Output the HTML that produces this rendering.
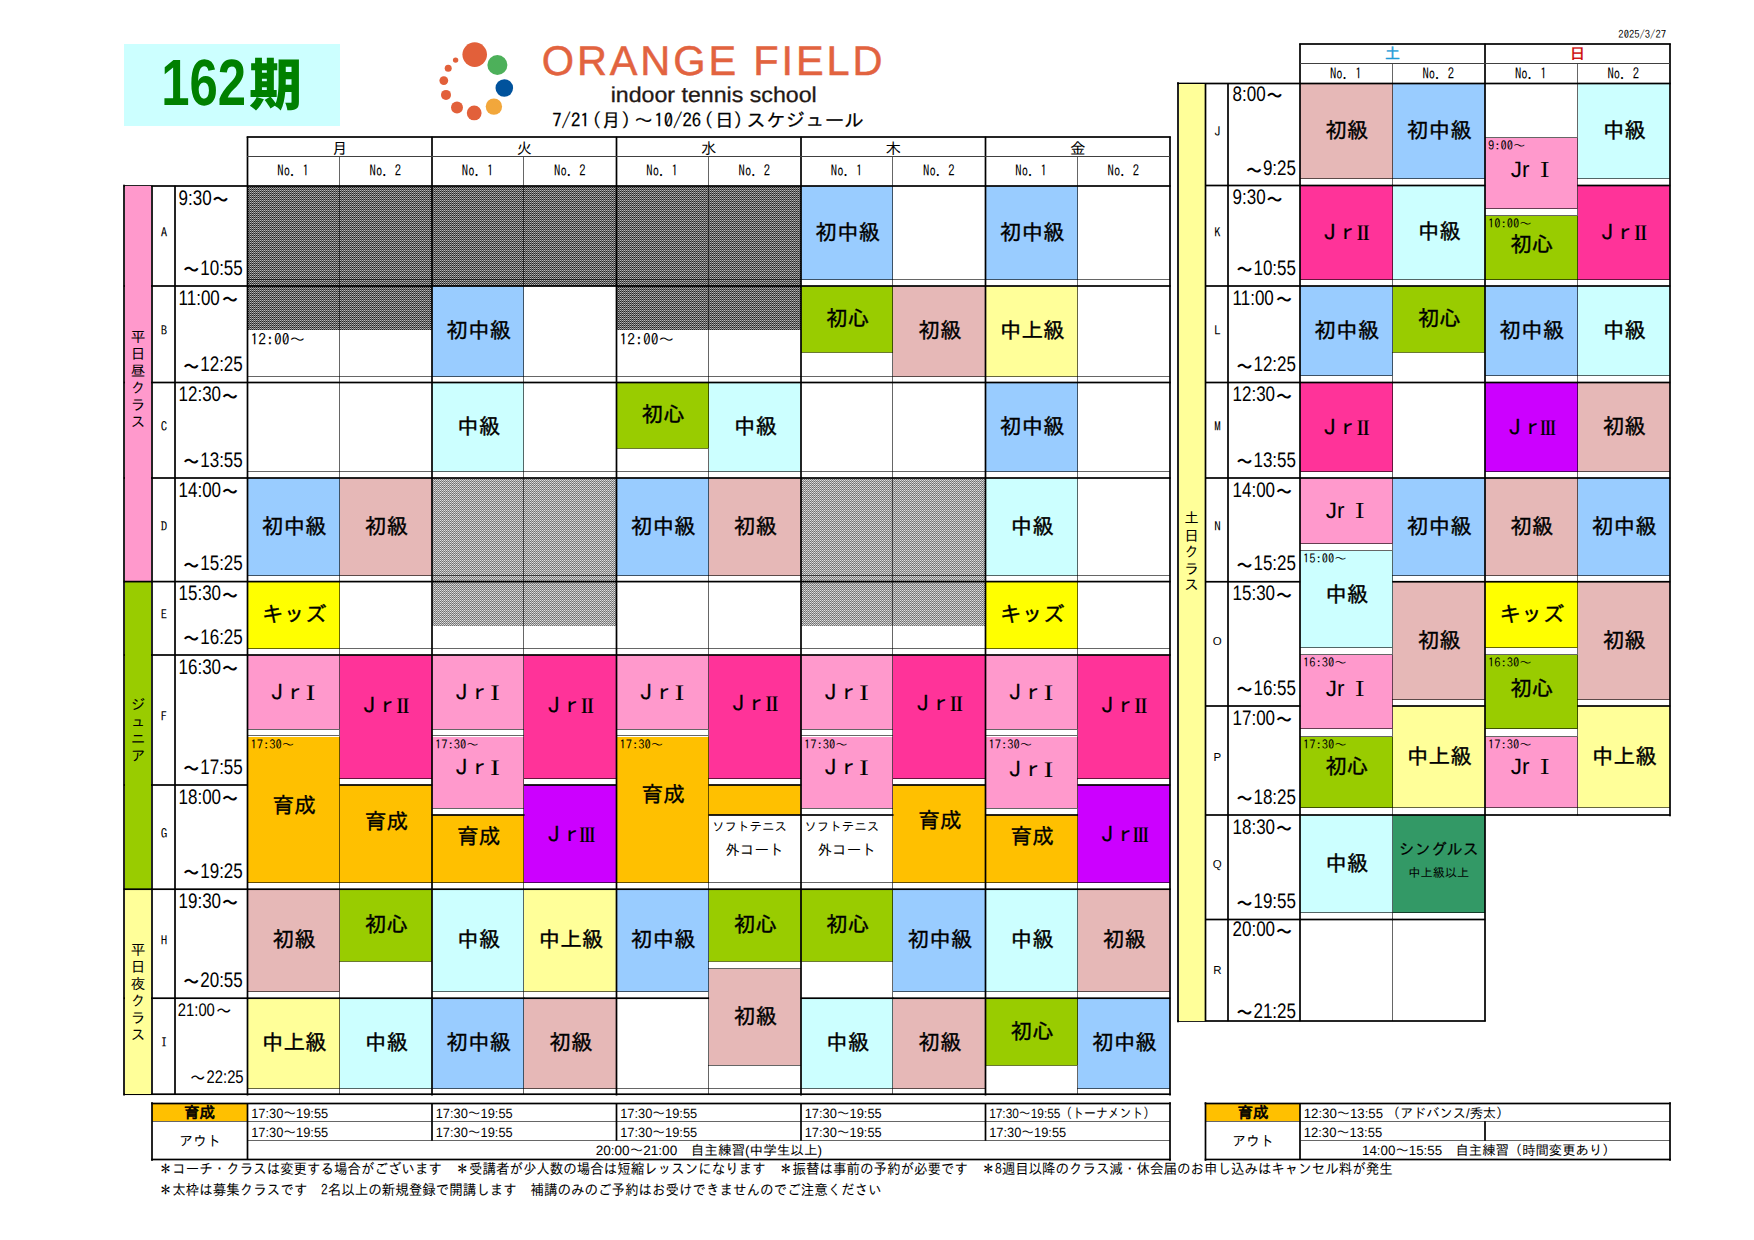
<!DOCTYPE html>
<html lang="ja"><head><meta charset="utf-8"><title>ORANGE FIELD indoor tennis school 162期 スケジュール</title>
<style>html,body{margin:0;padding:0;background:#fff}body{width:1754px;height:1240px;overflow:hidden}svg{display:block}</style>
</head><body>
<svg width="1754" height="1240" viewBox="0 0 1754 1240" shape-rendering="crispEdges">
<defs><pattern id="pd" width="2" height="2" patternUnits="userSpaceOnUse"><rect x="0" y="0" width="1" height="1" fill="#b8b8b8"/><rect x="1" y="0" width="1" height="1" fill="#585858"/><rect x="0" y="1" width="1" height="1" fill="#202020"/><rect x="1" y="1" width="1" height="1" fill="#808080"/></pattern><pattern id="pl" width="2" height="2" patternUnits="userSpaceOnUse"><rect x="0" y="0" width="1" height="1" fill="#e0e0e0"/><rect x="1" y="0" width="1" height="1" fill="#888888"/><rect x="0" y="1" width="1" height="1" fill="#6c6c6c"/><rect x="1" y="1" width="1" height="1" fill="#c0c0c0"/></pattern></defs>
<rect x="0" y="0" width="1754" height="1240" fill="#fff"/>
<rect x="124" y="44" width="215.5" height="82" fill="#CCFFFF"/>
<rect x="247.5" y="186" width="92.25" height="100" fill="url(#pd)"/>
<rect x="247.5" y="286" width="92.25" height="43.5" fill="url(#pd)"/>
<rect x="247.5" y="478" width="92.25" height="98" fill="#99CCFF"/>
<rect x="247.5" y="581.6" width="92.25" height="67.4" fill="#FFFF00"/>
<rect x="247.5" y="655" width="92.25" height="74" fill="#FF99CC"/>
<rect x="247.5" y="736.5" width="92.25" height="146.5" fill="#FFC000"/>
<rect x="247.5" y="889.2" width="92.25" height="102.55" fill="#E6B8B7"/>
<rect x="247.5" y="998.2" width="92.25" height="90.3" fill="#FFFF99"/>
<rect x="339.75" y="186" width="92.25" height="100" fill="url(#pd)"/>
<rect x="339.75" y="286" width="92.25" height="43.5" fill="url(#pd)"/>
<rect x="339.75" y="478" width="92.25" height="98" fill="#E6B8B7"/>
<rect x="339.75" y="655" width="92.25" height="124" fill="#FF3399"/>
<rect x="339.75" y="785" width="92.25" height="98" fill="#FFC000"/>
<rect x="339.75" y="889.2" width="92.25" height="71.8" fill="#99CC00"/>
<rect x="339.75" y="998.2" width="92.25" height="90.3" fill="#CCFFFF"/>
<rect x="432" y="186" width="92.25" height="100" fill="url(#pd)"/>
<rect x="432" y="286" width="92.25" height="91" fill="#99CCFF"/>
<rect x="432" y="382.5" width="92.25" height="89" fill="#CCFFFF"/>
<rect x="432" y="478" width="92.25" height="103.6" fill="url(#pl)"/>
<rect x="432" y="581.6" width="92.25" height="44.15" fill="url(#pl)"/>
<rect x="432" y="655" width="92.25" height="74" fill="#FF99CC"/>
<rect x="432" y="736.5" width="92.25" height="71.5" fill="#FF99CC"/>
<rect x="432" y="815" width="92.25" height="68" fill="#FFC000"/>
<rect x="432" y="889.2" width="92.25" height="102.55" fill="#CCFFFF"/>
<rect x="432" y="998.2" width="92.25" height="90.3" fill="#99CCFF"/>
<rect x="524.25" y="186" width="92.25" height="100" fill="url(#pd)"/>
<rect x="524.25" y="478" width="92.25" height="103.6" fill="url(#pl)"/>
<rect x="524.25" y="581.6" width="92.25" height="44.15" fill="url(#pl)"/>
<rect x="524.25" y="655" width="92.25" height="124" fill="#FF3399"/>
<rect x="524.25" y="785" width="92.25" height="98" fill="#CC00FF"/>
<rect x="524.25" y="889.2" width="92.25" height="102.55" fill="#FFFF99"/>
<rect x="524.25" y="998.2" width="92.25" height="90.3" fill="#E6B8B7"/>
<rect x="616.5" y="186" width="92.25" height="100" fill="url(#pd)"/>
<rect x="616.5" y="286" width="92.25" height="43.5" fill="url(#pd)"/>
<rect x="616.5" y="382.5" width="92.25" height="65.5" fill="#99CC00"/>
<rect x="616.5" y="478" width="92.25" height="98" fill="#99CCFF"/>
<rect x="616.5" y="655" width="92.25" height="74" fill="#FF99CC"/>
<rect x="616.5" y="736.5" width="92.25" height="146.5" fill="#FFC000"/>
<rect x="616.5" y="889.2" width="92.25" height="102.55" fill="#99CCFF"/>
<rect x="708.75" y="186" width="92.25" height="100" fill="url(#pd)"/>
<rect x="708.75" y="286" width="92.25" height="43.5" fill="url(#pd)"/>
<rect x="708.75" y="382.5" width="92.25" height="89" fill="#CCFFFF"/>
<rect x="708.75" y="478" width="92.25" height="98" fill="#E6B8B7"/>
<rect x="708.75" y="655" width="92.25" height="124" fill="#FF3399"/>
<rect x="708.75" y="785" width="92.25" height="29.5" fill="#FFC000"/>
<rect x="708.75" y="889.2" width="92.25" height="71.8" fill="#99CC00"/>
<rect x="708.75" y="968.5" width="92.25" height="96.5" fill="#E6B8B7"/>
<rect x="801" y="186" width="92.25" height="94" fill="#99CCFF"/>
<rect x="801" y="286" width="92.25" height="66" fill="#99CC00"/>
<rect x="801" y="478" width="92.25" height="103.6" fill="url(#pl)"/>
<rect x="801" y="581.6" width="92.25" height="44.15" fill="url(#pl)"/>
<rect x="801" y="655" width="92.25" height="74" fill="#FF99CC"/>
<rect x="801" y="736.5" width="92.25" height="71.5" fill="#FF99CC"/>
<rect x="801" y="889.2" width="92.25" height="71.8" fill="#99CC00"/>
<rect x="801" y="998.2" width="92.25" height="90.3" fill="#CCFFFF"/>
<rect x="893.25" y="286" width="92.25" height="91" fill="#E6B8B7"/>
<rect x="893.25" y="478" width="92.25" height="103.6" fill="url(#pl)"/>
<rect x="893.25" y="581.6" width="92.25" height="44.15" fill="url(#pl)"/>
<rect x="893.25" y="655" width="92.25" height="124" fill="#FF3399"/>
<rect x="893.25" y="785" width="92.25" height="98" fill="#FFC000"/>
<rect x="893.25" y="889.2" width="92.25" height="102.55" fill="#99CCFF"/>
<rect x="893.25" y="998.2" width="92.25" height="90.3" fill="#E6B8B7"/>
<rect x="985.5" y="186" width="92.25" height="94" fill="#99CCFF"/>
<rect x="985.5" y="286" width="92.25" height="91" fill="#FFFF99"/>
<rect x="985.5" y="382.5" width="92.25" height="89" fill="#99CCFF"/>
<rect x="985.5" y="478" width="92.25" height="98" fill="#CCFFFF"/>
<rect x="985.5" y="581.6" width="92.25" height="67.4" fill="#FFFF00"/>
<rect x="985.5" y="655" width="92.25" height="74" fill="#FF99CC"/>
<rect x="985.5" y="736.5" width="92.25" height="71.5" fill="#FF99CC"/>
<rect x="985.5" y="815" width="92.25" height="68" fill="#FFC000"/>
<rect x="985.5" y="889.2" width="92.25" height="102.55" fill="#CCFFFF"/>
<rect x="985.5" y="998.2" width="92.25" height="66.8" fill="#99CC00"/>
<rect x="1077.75" y="655" width="92.25" height="124" fill="#FF3399"/>
<rect x="1077.75" y="785" width="92.25" height="98" fill="#CC00FF"/>
<rect x="1077.75" y="889.2" width="92.25" height="102.55" fill="#E6B8B7"/>
<rect x="1077.75" y="998.2" width="92.25" height="90.3" fill="#99CCFF"/>
<rect x="247" y="279" width="92" height="1" fill="#000" fill-opacity="0.6"/>
<rect x="339" y="279" width="93" height="1" fill="#000" fill-opacity="0.6"/>
<rect x="432" y="279" width="92" height="1" fill="#000" fill-opacity="0.6"/>
<rect x="524" y="279" width="92" height="1" fill="#000" fill-opacity="0.6"/>
<rect x="616" y="279" width="92" height="1" fill="#000" fill-opacity="0.6"/>
<rect x="708" y="279" width="93" height="1" fill="#000" fill-opacity="0.6"/>
<rect x="801" y="279" width="92" height="1" fill="#000" fill-opacity="0.6"/>
<rect x="893" y="279" width="92" height="1" fill="#000" fill-opacity="0.6"/>
<rect x="985" y="279" width="92" height="1" fill="#000" fill-opacity="0.6"/>
<rect x="1077" y="279" width="93" height="1" fill="#000" fill-opacity="0.6"/>
<rect x="247" y="376" width="92" height="1" fill="#000" fill-opacity="0.6"/>
<rect x="339" y="376" width="93" height="1" fill="#000" fill-opacity="0.6"/>
<rect x="432" y="376" width="92" height="1" fill="#000" fill-opacity="0.6"/>
<rect x="524" y="376" width="92" height="1" fill="#000" fill-opacity="0.6"/>
<rect x="616" y="376" width="92" height="1" fill="#000" fill-opacity="0.6"/>
<rect x="708" y="376" width="93" height="1" fill="#000" fill-opacity="0.6"/>
<rect x="801" y="376" width="92" height="1" fill="#000" fill-opacity="0.6"/>
<rect x="893" y="376" width="92" height="1" fill="#000" fill-opacity="0.6"/>
<rect x="985" y="376" width="92" height="1" fill="#000" fill-opacity="0.6"/>
<rect x="1077" y="376" width="93" height="1" fill="#000" fill-opacity="0.6"/>
<rect x="247" y="471" width="92" height="1" fill="#000" fill-opacity="0.6"/>
<rect x="339" y="471" width="93" height="1" fill="#000" fill-opacity="0.6"/>
<rect x="432" y="471" width="92" height="1" fill="#000" fill-opacity="0.6"/>
<rect x="524" y="471" width="92" height="1" fill="#000" fill-opacity="0.6"/>
<rect x="616" y="471" width="92" height="1" fill="#000" fill-opacity="0.6"/>
<rect x="708" y="471" width="93" height="1" fill="#000" fill-opacity="0.6"/>
<rect x="801" y="471" width="92" height="1" fill="#000" fill-opacity="0.6"/>
<rect x="893" y="471" width="92" height="1" fill="#000" fill-opacity="0.6"/>
<rect x="985" y="471" width="92" height="1" fill="#000" fill-opacity="0.6"/>
<rect x="1077" y="471" width="93" height="1" fill="#000" fill-opacity="0.6"/>
<rect x="247" y="575" width="92" height="1" fill="#000" fill-opacity="0.6"/>
<rect x="339" y="575" width="93" height="1" fill="#000" fill-opacity="0.6"/>
<rect x="432" y="575" width="92" height="1" fill="#000" fill-opacity="0.6"/>
<rect x="524" y="575" width="92" height="1" fill="#000" fill-opacity="0.6"/>
<rect x="616" y="575" width="92" height="1" fill="#000" fill-opacity="0.6"/>
<rect x="708" y="575" width="93" height="1" fill="#000" fill-opacity="0.6"/>
<rect x="801" y="575" width="92" height="1" fill="#000" fill-opacity="0.6"/>
<rect x="893" y="575" width="92" height="1" fill="#000" fill-opacity="0.6"/>
<rect x="985" y="575" width="92" height="1" fill="#000" fill-opacity="0.6"/>
<rect x="1077" y="575" width="93" height="1" fill="#000" fill-opacity="0.6"/>
<rect x="247" y="648" width="92" height="1" fill="#000" fill-opacity="0.6"/>
<rect x="339" y="648" width="93" height="1" fill="#000" fill-opacity="0.6"/>
<rect x="432" y="648" width="92" height="1" fill="#000" fill-opacity="0.6"/>
<rect x="524" y="648" width="92" height="1" fill="#000" fill-opacity="0.6"/>
<rect x="616" y="648" width="92" height="1" fill="#000" fill-opacity="0.6"/>
<rect x="708" y="648" width="93" height="1" fill="#000" fill-opacity="0.6"/>
<rect x="801" y="648" width="92" height="1" fill="#000" fill-opacity="0.6"/>
<rect x="893" y="648" width="92" height="1" fill="#000" fill-opacity="0.6"/>
<rect x="985" y="648" width="92" height="1" fill="#000" fill-opacity="0.6"/>
<rect x="1077" y="648" width="93" height="1" fill="#000" fill-opacity="0.6"/>
<rect x="339" y="778" width="93" height="1" fill="#000" fill-opacity="0.6"/>
<rect x="524" y="778" width="92" height="1" fill="#000" fill-opacity="0.6"/>
<rect x="708" y="778" width="93" height="1" fill="#000" fill-opacity="0.6"/>
<rect x="893" y="778" width="92" height="1" fill="#000" fill-opacity="0.6"/>
<rect x="1077" y="778" width="93" height="1" fill="#000" fill-opacity="0.6"/>
<rect x="247" y="882" width="92" height="1" fill="#000" fill-opacity="0.6"/>
<rect x="339" y="882" width="93" height="1" fill="#000" fill-opacity="0.6"/>
<rect x="432" y="882" width="92" height="1" fill="#000" fill-opacity="0.6"/>
<rect x="524" y="882" width="92" height="1" fill="#000" fill-opacity="0.6"/>
<rect x="616" y="882" width="92" height="1" fill="#000" fill-opacity="0.6"/>
<rect x="708" y="882" width="93" height="1" fill="#000" fill-opacity="0.6"/>
<rect x="801" y="882" width="92" height="1" fill="#000" fill-opacity="0.6"/>
<rect x="893" y="882" width="92" height="1" fill="#000" fill-opacity="0.6"/>
<rect x="985" y="882" width="92" height="1" fill="#000" fill-opacity="0.6"/>
<rect x="1077" y="882" width="93" height="1" fill="#000" fill-opacity="0.6"/>
<rect x="247" y="991" width="92" height="1" fill="#000" fill-opacity="0.6"/>
<rect x="432" y="991" width="92" height="1" fill="#000" fill-opacity="0.6"/>
<rect x="524" y="991" width="92" height="1" fill="#000" fill-opacity="0.6"/>
<rect x="616" y="991" width="92" height="1" fill="#000" fill-opacity="0.6"/>
<rect x="893" y="991" width="92" height="1" fill="#000" fill-opacity="0.6"/>
<rect x="985" y="991" width="92" height="1" fill="#000" fill-opacity="0.6"/>
<rect x="1077" y="991" width="93" height="1" fill="#000" fill-opacity="0.6"/>
<rect x="247" y="1088" width="92" height="1" fill="#000" fill-opacity="0.6"/>
<rect x="339" y="1088" width="93" height="1" fill="#000" fill-opacity="0.6"/>
<rect x="432" y="1088" width="92" height="1" fill="#000" fill-opacity="0.6"/>
<rect x="524" y="1088" width="92" height="1" fill="#000" fill-opacity="0.6"/>
<rect x="616" y="1088" width="92" height="1" fill="#000" fill-opacity="0.6"/>
<rect x="708" y="1088" width="93" height="1" fill="#000" fill-opacity="0.6"/>
<rect x="801" y="1088" width="92" height="1" fill="#000" fill-opacity="0.6"/>
<rect x="893" y="1088" width="92" height="1" fill="#000" fill-opacity="0.6"/>
<rect x="1077" y="1088" width="93" height="1" fill="#000" fill-opacity="0.6"/>
<rect x="708" y="968" width="93" height="1" fill="#000" fill-opacity="0.6"/>
<rect x="708" y="1065" width="93" height="1" fill="#000" fill-opacity="0.6"/>
<rect x="339" y="961" width="93" height="1" fill="#6a7a30"/>
<rect x="708" y="961" width="93" height="1" fill="#6a7a30"/>
<rect x="801" y="961" width="92" height="1" fill="#6a7a30"/>
<rect x="801" y="352" width="92" height="1" fill="#6a7a30"/>
<rect x="616" y="448" width="92" height="1" fill="#6a7a30"/>
<rect x="985" y="1065" width="92" height="1" fill="#6a7a30"/>
<rect x="247" y="729" width="92" height="1" fill="#000" fill-opacity="0.6"/>
<rect x="247" y="735" width="92" height="1" fill="#000" fill-opacity="0.6"/>
<rect x="432" y="729" width="92" height="1" fill="#000" fill-opacity="0.6"/>
<rect x="432" y="735" width="92" height="1" fill="#000" fill-opacity="0.6"/>
<rect x="616" y="729" width="92" height="1" fill="#000" fill-opacity="0.6"/>
<rect x="616" y="735" width="92" height="1" fill="#000" fill-opacity="0.6"/>
<rect x="801" y="729" width="92" height="1" fill="#000" fill-opacity="0.6"/>
<rect x="801" y="735" width="92" height="1" fill="#000" fill-opacity="0.6"/>
<rect x="985" y="729" width="92" height="1" fill="#000" fill-opacity="0.6"/>
<rect x="985" y="735" width="92" height="1" fill="#000" fill-opacity="0.6"/>
<rect x="432" y="808" width="92" height="1" fill="#000" fill-opacity="0.6"/>
<rect x="431.7" y="814.15" width="92.85" height="1.7" fill="#000" shape-rendering="geometricPrecision"/>
<rect x="801" y="808" width="92" height="1" fill="#000" fill-opacity="0.6"/>
<rect x="800.7" y="814.15" width="92.85" height="1.7" fill="#000" shape-rendering="geometricPrecision"/>
<rect x="985" y="808" width="92" height="1" fill="#000" fill-opacity="0.6"/>
<rect x="985.2" y="814.15" width="92.85" height="1.7" fill="#000" shape-rendering="geometricPrecision"/>
<rect x="708.45" y="814.15" width="92.85" height="1.7" fill="#000" shape-rendering="geometricPrecision"/>
<rect x="339" y="157" width="1" height="937" fill="#000" fill-opacity="0.6"/>
<rect x="523" y="157" width="1" height="937" fill="#000" fill-opacity="0.6"/>
<rect x="708" y="157" width="1" height="937" fill="#000" fill-opacity="0.6"/>
<rect x="892" y="157" width="1" height="937" fill="#000" fill-opacity="0.6"/>
<rect x="1077" y="157" width="1" height="937" fill="#000" fill-opacity="0.6"/>
<rect x="123.7" y="185.15" width="1047.1" height="1.7" fill="#000" shape-rendering="geometricPrecision"/>
<rect x="123.7" y="285.15" width="1047.1" height="1.7" fill="#000" shape-rendering="geometricPrecision"/>
<rect x="123.7" y="381.65" width="1047.1" height="1.7" fill="#000" shape-rendering="geometricPrecision"/>
<rect x="123.7" y="477.15" width="1047.1" height="1.7" fill="#000" shape-rendering="geometricPrecision"/>
<rect x="123.7" y="580.75" width="1047.1" height="1.7" fill="#000" shape-rendering="geometricPrecision"/>
<rect x="123.7" y="654.15" width="1047.1" height="1.7" fill="#000" shape-rendering="geometricPrecision"/>
<rect x="123.7" y="784.15" width="124.1" height="1.7" fill="#000" shape-rendering="geometricPrecision"/>
<rect x="339.45" y="784.15" width="92.85" height="1.7" fill="#000" shape-rendering="geometricPrecision"/>
<rect x="523.95" y="784.15" width="92.85" height="1.7" fill="#000" shape-rendering="geometricPrecision"/>
<rect x="708.45" y="784.15" width="92.85" height="1.7" fill="#000" shape-rendering="geometricPrecision"/>
<rect x="892.95" y="784.15" width="92.85" height="1.7" fill="#000" shape-rendering="geometricPrecision"/>
<rect x="1077.45" y="784.15" width="92.85" height="1.7" fill="#000" shape-rendering="geometricPrecision"/>
<rect x="123.7" y="888.35" width="1047.1" height="1.7" fill="#000" shape-rendering="geometricPrecision"/>
<rect x="123.7" y="997.35" width="124.1" height="1.7" fill="#000" shape-rendering="geometricPrecision"/>
<rect x="247.2" y="997.35" width="92.85" height="1.7" fill="#000" shape-rendering="geometricPrecision"/>
<rect x="339.45" y="997.35" width="92.85" height="1.7" fill="#000" shape-rendering="geometricPrecision"/>
<rect x="431.7" y="997.35" width="92.85" height="1.7" fill="#000" shape-rendering="geometricPrecision"/>
<rect x="523.95" y="997.35" width="92.85" height="1.7" fill="#000" shape-rendering="geometricPrecision"/>
<rect x="616.2" y="997.35" width="92.85" height="1.7" fill="#000" shape-rendering="geometricPrecision"/>
<rect x="800.7" y="997.35" width="92.85" height="1.7" fill="#000" shape-rendering="geometricPrecision"/>
<rect x="892.95" y="997.35" width="92.85" height="1.7" fill="#000" shape-rendering="geometricPrecision"/>
<rect x="985.2" y="997.35" width="92.85" height="1.7" fill="#000" shape-rendering="geometricPrecision"/>
<rect x="1077.45" y="997.35" width="92.85" height="1.7" fill="#000" shape-rendering="geometricPrecision"/>
<rect x="123.7" y="1093.35" width="1047.1" height="1.7" fill="#000" shape-rendering="geometricPrecision"/>
<rect x="246.65" y="136.7" width="1.7" height="958.8" fill="#000" shape-rendering="geometricPrecision"/>
<rect x="431.15" y="136.7" width="1.7" height="958.8" fill="#000" shape-rendering="geometricPrecision"/>
<rect x="615.65" y="136.7" width="1.7" height="958.8" fill="#000" shape-rendering="geometricPrecision"/>
<rect x="800.15" y="136.7" width="1.7" height="958.8" fill="#000" shape-rendering="geometricPrecision"/>
<rect x="984.65" y="136.7" width="1.7" height="958.8" fill="#000" shape-rendering="geometricPrecision"/>
<rect x="1169.15" y="136.7" width="1.7" height="958.8" fill="#000" shape-rendering="geometricPrecision"/>
<rect x="246.7" y="136.15" width="924.1" height="1.7" fill="#000" shape-rendering="geometricPrecision"/>
<rect x="247" y="156" width="923" height="1" fill="#404040"/>
<rect x="125" y="186" width="26" height="395.6" fill="#FF99CC"/>
<rect x="125" y="581.6" width="26" height="307.6" fill="#99CC00"/>
<rect x="125" y="889.2" width="26" height="205" fill="#FFFF99"/>
<rect x="123.15" y="184.7" width="1.7" height="910.8" fill="#000" shape-rendering="geometricPrecision"/>
<rect x="151.15" y="185.7" width="1.7" height="908.8" fill="#000" shape-rendering="geometricPrecision"/>
<rect x="174.15" y="185.7" width="1.7" height="908.8" fill="#000" shape-rendering="geometricPrecision"/>
<rect x="123.7" y="580.75" width="28.6" height="1.7" fill="#000" shape-rendering="geometricPrecision"/>
<rect x="123.7" y="888.35" width="28.6" height="1.7" fill="#000" shape-rendering="geometricPrecision"/>
<rect x="125" y="285" width="26" height="2" fill="#FF99CC"/>
<rect x="125" y="381.5" width="26" height="2" fill="#FF99CC"/>
<rect x="125" y="477" width="26" height="2" fill="#FF99CC"/>
<rect x="125" y="654" width="26" height="2" fill="#99CC00"/>
<rect x="125" y="784" width="26" height="2" fill="#99CC00"/>
<rect x="125" y="997.2" width="26" height="2" fill="#FFFF99"/>
<rect x="1300" y="83.5" width="92.5" height="95.25" fill="#E6B8B7"/>
<rect x="1300" y="185.5" width="92.5" height="94" fill="#FF3399"/>
<rect x="1300" y="286" width="92.5" height="90" fill="#99CCFF"/>
<rect x="1300" y="382.5" width="92.5" height="89.25" fill="#FF3399"/>
<rect x="1300" y="478" width="92.5" height="66" fill="#FF99CC"/>
<rect x="1300" y="551" width="92.5" height="97" fill="#CCFFFF"/>
<rect x="1300" y="655" width="92.5" height="74" fill="#FF99CC"/>
<rect x="1300" y="736.5" width="92.5" height="71" fill="#99CC00"/>
<rect x="1300" y="815" width="92.5" height="97.5" fill="#CCFFFF"/>
<rect x="1392.5" y="83.5" width="92.5" height="95.25" fill="#99CCFF"/>
<rect x="1392.5" y="185.5" width="92.5" height="94" fill="#CCFFFF"/>
<rect x="1392.5" y="286" width="92.5" height="66" fill="#99CC00"/>
<rect x="1392.5" y="478" width="92.5" height="97.5" fill="#99CCFF"/>
<rect x="1392.5" y="581.75" width="92.5" height="117.75" fill="#E6B8B7"/>
<rect x="1392.5" y="706" width="92.5" height="101.5" fill="#FFFF99"/>
<rect x="1392.5" y="815" width="92.5" height="98" fill="#339966"/>
<rect x="1485" y="137.5" width="92.5" height="71.25" fill="#FF99CC"/>
<rect x="1485" y="215.75" width="92.5" height="63.75" fill="#99CC00"/>
<rect x="1485" y="286" width="92.5" height="90" fill="#99CCFF"/>
<rect x="1485" y="382.5" width="92.5" height="89.25" fill="#CC00FF"/>
<rect x="1485" y="478" width="92.5" height="97.5" fill="#E6B8B7"/>
<rect x="1485" y="581.75" width="92.5" height="66.25" fill="#FFFF00"/>
<rect x="1485" y="655" width="92.5" height="74" fill="#99CC00"/>
<rect x="1485" y="736.5" width="92.5" height="71" fill="#FF99CC"/>
<rect x="1577.5" y="83.5" width="92.5" height="95.25" fill="#CCFFFF"/>
<rect x="1577.5" y="185.5" width="92.5" height="94" fill="#FF3399"/>
<rect x="1577.5" y="286" width="92.5" height="90" fill="#CCFFFF"/>
<rect x="1577.5" y="382.5" width="92.5" height="89.25" fill="#E6B8B7"/>
<rect x="1577.5" y="478" width="92.5" height="97.5" fill="#99CCFF"/>
<rect x="1577.5" y="581.75" width="92.5" height="117.75" fill="#E6B8B7"/>
<rect x="1577.5" y="706" width="92.5" height="101.5" fill="#FFFF99"/>
<rect x="1300" y="178" width="92" height="1" fill="#000" fill-opacity="0.6"/>
<rect x="1392" y="178" width="93" height="1" fill="#000" fill-opacity="0.6"/>
<rect x="1577" y="178" width="93" height="1" fill="#000" fill-opacity="0.6"/>
<rect x="1300" y="279" width="92" height="1" fill="#000" fill-opacity="0.6"/>
<rect x="1392" y="279" width="93" height="1" fill="#000" fill-opacity="0.6"/>
<rect x="1485" y="279" width="92" height="1" fill="#000" fill-opacity="0.6"/>
<rect x="1577" y="279" width="93" height="1" fill="#000" fill-opacity="0.6"/>
<rect x="1300" y="375" width="92" height="1" fill="#000" fill-opacity="0.6"/>
<rect x="1485" y="375" width="92" height="1" fill="#000" fill-opacity="0.6"/>
<rect x="1577" y="375" width="93" height="1" fill="#000" fill-opacity="0.6"/>
<rect x="1300" y="471" width="92" height="1" fill="#000" fill-opacity="0.6"/>
<rect x="1485" y="471" width="92" height="1" fill="#000" fill-opacity="0.6"/>
<rect x="1577" y="471" width="93" height="1" fill="#000" fill-opacity="0.6"/>
<rect x="1392" y="575" width="93" height="1" fill="#000" fill-opacity="0.6"/>
<rect x="1485" y="575" width="92" height="1" fill="#000" fill-opacity="0.6"/>
<rect x="1577" y="575" width="93" height="1" fill="#000" fill-opacity="0.6"/>
<rect x="1392" y="699" width="93" height="1" fill="#000" fill-opacity="0.6"/>
<rect x="1577" y="699" width="93" height="1" fill="#000" fill-opacity="0.6"/>
<rect x="1300" y="807" width="92" height="1" fill="#000" fill-opacity="0.6"/>
<rect x="1392" y="807" width="93" height="1" fill="#000" fill-opacity="0.6"/>
<rect x="1485" y="807" width="92" height="1" fill="#000" fill-opacity="0.6"/>
<rect x="1577" y="807" width="93" height="1" fill="#000" fill-opacity="0.6"/>
<rect x="1300" y="912" width="92" height="1" fill="#000" fill-opacity="0.6"/>
<rect x="1392" y="912" width="93" height="1" fill="#000" fill-opacity="0.6"/>
<rect x="1300" y="543" width="92" height="1" fill="#000" fill-opacity="0.6"/>
<rect x="1300" y="550" width="92" height="1" fill="#000" fill-opacity="0.6"/>
<rect x="1300" y="647" width="92" height="1" fill="#000" fill-opacity="0.6"/>
<rect x="1485" y="647" width="92" height="1" fill="#000" fill-opacity="0.6"/>
<rect x="1300" y="654" width="92" height="1" fill="#000" fill-opacity="0.6"/>
<rect x="1485" y="654" width="92" height="1" fill="#000" fill-opacity="0.6"/>
<rect x="1300" y="728" width="92" height="1" fill="#000" fill-opacity="0.6"/>
<rect x="1485" y="728" width="92" height="1" fill="#000" fill-opacity="0.6"/>
<rect x="1300" y="736" width="92" height="1" fill="#000" fill-opacity="0.6"/>
<rect x="1485" y="736" width="92" height="1" fill="#000" fill-opacity="0.6"/>
<rect x="1485" y="137" width="92" height="1" fill="#000" fill-opacity="0.6"/>
<rect x="1485" y="208" width="92" height="1" fill="#000" fill-opacity="0.6"/>
<rect x="1485" y="215" width="92" height="1" fill="#000" fill-opacity="0.6"/>
<rect x="1392" y="352" width="93" height="1" fill="#6a7a30"/>
<rect x="1392" y="64" width="1" height="957" fill="#000" fill-opacity="0.6"/>
<rect x="1577" y="64" width="1" height="751" fill="#000" fill-opacity="0.6"/>
<rect x="1177.2" y="82.65" width="493.6" height="1.7" fill="#000" shape-rendering="geometricPrecision"/>
<rect x="1204.7" y="184.65" width="95.6" height="1.7" fill="#000" shape-rendering="geometricPrecision"/>
<rect x="1299.7" y="184.65" width="93.1" height="1.7" fill="#000" shape-rendering="geometricPrecision"/>
<rect x="1392.2" y="184.65" width="93.1" height="1.7" fill="#000" shape-rendering="geometricPrecision"/>
<rect x="1577.2" y="184.65" width="93.1" height="1.7" fill="#000" shape-rendering="geometricPrecision"/>
<rect x="1204.7" y="285.15" width="95.6" height="1.7" fill="#000" shape-rendering="geometricPrecision"/>
<rect x="1299.7" y="285.15" width="93.1" height="1.7" fill="#000" shape-rendering="geometricPrecision"/>
<rect x="1392.2" y="285.15" width="93.1" height="1.7" fill="#000" shape-rendering="geometricPrecision"/>
<rect x="1484.7" y="285.15" width="93.1" height="1.7" fill="#000" shape-rendering="geometricPrecision"/>
<rect x="1577.2" y="285.15" width="93.1" height="1.7" fill="#000" shape-rendering="geometricPrecision"/>
<rect x="1204.7" y="381.65" width="95.6" height="1.7" fill="#000" shape-rendering="geometricPrecision"/>
<rect x="1299.7" y="381.65" width="93.1" height="1.7" fill="#000" shape-rendering="geometricPrecision"/>
<rect x="1392.2" y="381.65" width="93.1" height="1.7" fill="#000" shape-rendering="geometricPrecision"/>
<rect x="1484.7" y="381.65" width="93.1" height="1.7" fill="#000" shape-rendering="geometricPrecision"/>
<rect x="1577.2" y="381.65" width="93.1" height="1.7" fill="#000" shape-rendering="geometricPrecision"/>
<rect x="1204.7" y="477.15" width="95.6" height="1.7" fill="#000" shape-rendering="geometricPrecision"/>
<rect x="1299.7" y="477.15" width="93.1" height="1.7" fill="#000" shape-rendering="geometricPrecision"/>
<rect x="1392.2" y="477.15" width="93.1" height="1.7" fill="#000" shape-rendering="geometricPrecision"/>
<rect x="1484.7" y="477.15" width="93.1" height="1.7" fill="#000" shape-rendering="geometricPrecision"/>
<rect x="1577.2" y="477.15" width="93.1" height="1.7" fill="#000" shape-rendering="geometricPrecision"/>
<rect x="1204.7" y="580.9" width="95.6" height="1.7" fill="#000" shape-rendering="geometricPrecision"/>
<rect x="1392.2" y="580.9" width="93.1" height="1.7" fill="#000" shape-rendering="geometricPrecision"/>
<rect x="1484.7" y="580.9" width="93.1" height="1.7" fill="#000" shape-rendering="geometricPrecision"/>
<rect x="1577.2" y="580.9" width="93.1" height="1.7" fill="#000" shape-rendering="geometricPrecision"/>
<rect x="1204.7" y="705.15" width="95.6" height="1.7" fill="#000" shape-rendering="geometricPrecision"/>
<rect x="1392.2" y="705.15" width="93.1" height="1.7" fill="#000" shape-rendering="geometricPrecision"/>
<rect x="1577.2" y="705.15" width="93.1" height="1.7" fill="#000" shape-rendering="geometricPrecision"/>
<rect x="1204.7" y="814.15" width="95.6" height="1.7" fill="#000" shape-rendering="geometricPrecision"/>
<rect x="1299.7" y="814.15" width="93.1" height="1.7" fill="#000" shape-rendering="geometricPrecision"/>
<rect x="1392.2" y="814.15" width="93.1" height="1.7" fill="#000" shape-rendering="geometricPrecision"/>
<rect x="1484.7" y="814.15" width="93.1" height="1.7" fill="#000" shape-rendering="geometricPrecision"/>
<rect x="1577.2" y="814.15" width="93.1" height="1.7" fill="#000" shape-rendering="geometricPrecision"/>
<rect x="1204.7" y="918.65" width="95.6" height="1.7" fill="#000" shape-rendering="geometricPrecision"/>
<rect x="1299.7" y="918.65" width="93.1" height="1.7" fill="#000" shape-rendering="geometricPrecision"/>
<rect x="1392.2" y="918.65" width="93.1" height="1.7" fill="#000" shape-rendering="geometricPrecision"/>
<rect x="1177.2" y="1020.15" width="308.6" height="1.7" fill="#000" shape-rendering="geometricPrecision"/>
<rect x="1299.15" y="43.7" width="1.7" height="977.6" fill="#000" shape-rendering="geometricPrecision"/>
<rect x="1484.15" y="43.7" width="1.7" height="977.6" fill="#000" shape-rendering="geometricPrecision"/>
<rect x="1669.15" y="43.7" width="1.7" height="772.6" fill="#000" shape-rendering="geometricPrecision"/>
<rect x="1299.2" y="43.15" width="371.6" height="1.7" fill="#000" shape-rendering="geometricPrecision"/>
<rect x="1300" y="63" width="370" height="1" fill="#404040"/>
<rect x="1179" y="83.5" width="26" height="937.5" fill="#FFFF99"/>
<rect x="1177.15" y="82.2" width="1.7" height="940.1" fill="#000" shape-rendering="geometricPrecision"/>
<rect x="1204.65" y="83.2" width="1.7" height="938.1" fill="#000" shape-rendering="geometricPrecision"/>
<rect x="1227.15" y="83.2" width="1.7" height="938.1" fill="#000" shape-rendering="geometricPrecision"/>
<rect x="152" y="1104" width="95" height="17" fill="#FFC000"/>
<rect x="1206" y="1104" width="94" height="17" fill="#FFC000"/>
<rect x="151.2" y="1102.65" width="1019.6" height="1.7" fill="#000" shape-rendering="geometricPrecision"/>
<rect x="151.2" y="1158.65" width="1019.6" height="1.7" fill="#000" shape-rendering="geometricPrecision"/>
<rect x="151.15" y="1102.2" width="1.7" height="58.6" fill="#000" shape-rendering="geometricPrecision"/>
<rect x="1169.15" y="1102.2" width="1.7" height="58.6" fill="#000" shape-rendering="geometricPrecision"/>
<rect x="246.65" y="1103.2" width="1.7" height="56.6" fill="#000" shape-rendering="geometricPrecision"/>
<rect x="152" y="1121" width="1018" height="1" fill="#000" fill-opacity="0.6"/>
<rect x="248" y="1140" width="922" height="1" fill="#000" fill-opacity="0.6"/>
<rect x="431.15" y="1103.2" width="1.7" height="37.6" fill="#000" shape-rendering="geometricPrecision"/>
<rect x="615.65" y="1103.2" width="1.7" height="37.6" fill="#000" shape-rendering="geometricPrecision"/>
<rect x="800.15" y="1103.2" width="1.7" height="37.6" fill="#000" shape-rendering="geometricPrecision"/>
<rect x="984.65" y="1103.2" width="1.7" height="37.6" fill="#000" shape-rendering="geometricPrecision"/>
<rect x="1204.7" y="1102.65" width="466.1" height="1.7" fill="#000" shape-rendering="geometricPrecision"/>
<rect x="1204.7" y="1158.65" width="466.1" height="1.7" fill="#000" shape-rendering="geometricPrecision"/>
<rect x="1204.65" y="1102.2" width="1.7" height="58.6" fill="#000" shape-rendering="geometricPrecision"/>
<rect x="1669.15" y="1102.2" width="1.7" height="58.6" fill="#000" shape-rendering="geometricPrecision"/>
<rect x="1299.15" y="1103.2" width="1.7" height="56.6" fill="#000" shape-rendering="geometricPrecision"/>
<rect x="1206" y="1121" width="464" height="1" fill="#000" fill-opacity="0.6"/>
<rect x="1301" y="1140" width="369" height="1" fill="#000" fill-opacity="0.6"/>
<rect x="1484.15" y="1121.2" width="1.7" height="19.6" fill="#000" shape-rendering="geometricPrecision"/>
<g shape-rendering="auto" text-rendering="geometricPrecision">
<text x="294.225" y="533.9" font-family="IPAGothic, 'Noto Sans CJK JP', monospace" font-size="21.7" text-anchor="middle" stroke="#000" stroke-width="0.35" fill="#000">初中級</text>
<text x="294.225" y="622.2" font-family="IPAGothic, 'Noto Sans CJK JP', monospace" font-size="21.7" text-anchor="middle" stroke="#000" stroke-width="0.35" fill="#000">キッズ</text>
<text y="699.7" font-size="21.7" text-anchor="middle"><tspan x="277.625" font-family="IPAGothic, 'Noto Sans CJK JP', monospace" stroke="#000" stroke-width="0.15">Ｊ</tspan><tspan x="293.725" font-family="IPAGothic, 'Noto Sans CJK JP', monospace" stroke="#000" stroke-width="0.15">ｒ</tspan></text>
<text x="310.525" y="699.7" font-family="'Noto Serif CJK SC', 'Noto Serif CJK JP', serif" font-size="19.5" text-anchor="middle" font-weight="700" fill="#000">Ⅰ</text>
<text x="294.225" y="812.9" font-family="IPAGothic, 'Noto Sans CJK JP', monospace" font-size="21.7" text-anchor="middle" stroke="#000" stroke-width="0.35" fill="#000">育成</text>
<text x="250.5" y="748.7" font-family="IPAGothic, 'Noto Sans CJK JP', monospace" font-size="12.5" fill="#000">17:30～</text>
<text x="294.225" y="947.375" font-family="IPAGothic, 'Noto Sans CJK JP', monospace" font-size="21.7" text-anchor="middle" stroke="#000" stroke-width="0.35" fill="#000">初級</text>
<text x="294.225" y="1050.25" font-family="IPAGothic, 'Noto Sans CJK JP', monospace" font-size="21.7" text-anchor="middle" stroke="#000" stroke-width="0.35" fill="#000">中上級</text>
<text x="386.475" y="533.9" font-family="IPAGothic, 'Noto Sans CJK JP', monospace" font-size="21.7" text-anchor="middle" stroke="#000" stroke-width="0.35" fill="#000">初級</text>
<text y="713.1" font-size="21.7" text-anchor="middle"><tspan x="369.875" font-family="IPAGothic, 'Noto Sans CJK JP', monospace" stroke="#000" stroke-width="0.15">Ｊ</tspan><tspan x="385.975" font-family="IPAGothic, 'Noto Sans CJK JP', monospace" stroke="#000" stroke-width="0.15">ｒ</tspan></text>
<text transform="translate(402.775,713.1) scale(0.86,1)" font-family="'Noto Serif CJK SC', 'Noto Serif CJK JP', serif" font-size="19.5" text-anchor="middle" font-weight="700" fill="#000">Ⅱ</text>
<text x="386.475" y="828.9" font-family="IPAGothic, 'Noto Sans CJK JP', monospace" font-size="21.7" text-anchor="middle" stroke="#000" stroke-width="0.35" fill="#000">育成</text>
<text x="386.475" y="932" font-family="IPAGothic, 'Noto Sans CJK JP', monospace" font-size="21.7" text-anchor="middle" stroke="#000" stroke-width="0.35" fill="#000">初心</text>
<text x="386.475" y="1050.25" font-family="IPAGothic, 'Noto Sans CJK JP', monospace" font-size="21.7" text-anchor="middle" stroke="#000" stroke-width="0.35" fill="#000">中級</text>
<text x="478.725" y="338.4" font-family="IPAGothic, 'Noto Sans CJK JP', monospace" font-size="21.7" text-anchor="middle" stroke="#000" stroke-width="0.35" fill="#000">初中級</text>
<text x="478.725" y="433.9" font-family="IPAGothic, 'Noto Sans CJK JP', monospace" font-size="21.7" text-anchor="middle" stroke="#000" stroke-width="0.35" fill="#000">中級</text>
<text y="699.7" font-size="21.7" text-anchor="middle"><tspan x="462.125" font-family="IPAGothic, 'Noto Sans CJK JP', monospace" stroke="#000" stroke-width="0.15">Ｊ</tspan><tspan x="478.225" font-family="IPAGothic, 'Noto Sans CJK JP', monospace" stroke="#000" stroke-width="0.15">ｒ</tspan></text>
<text x="495.025" y="699.7" font-family="'Noto Serif CJK SC', 'Noto Serif CJK JP', serif" font-size="19.5" text-anchor="middle" font-weight="700" fill="#000">Ⅰ</text>
<text y="774.7" font-size="21.7" text-anchor="middle"><tspan x="462.125" font-family="IPAGothic, 'Noto Sans CJK JP', monospace" stroke="#000" stroke-width="0.15">Ｊ</tspan><tspan x="478.225" font-family="IPAGothic, 'Noto Sans CJK JP', monospace" stroke="#000" stroke-width="0.15">ｒ</tspan></text>
<text x="495.025" y="774.7" font-family="'Noto Serif CJK SC', 'Noto Serif CJK JP', serif" font-size="19.5" text-anchor="middle" font-weight="700" fill="#000">Ⅰ</text>
<text x="435" y="748.7" font-family="IPAGothic, 'Noto Sans CJK JP', monospace" font-size="12.5" fill="#000">17:30～</text>
<text x="478.725" y="843.6" font-family="IPAGothic, 'Noto Sans CJK JP', monospace" font-size="21.7" text-anchor="middle" stroke="#000" stroke-width="0.35" fill="#000">育成</text>
<text x="478.725" y="947.375" font-family="IPAGothic, 'Noto Sans CJK JP', monospace" font-size="21.7" text-anchor="middle" stroke="#000" stroke-width="0.35" fill="#000">中級</text>
<text x="478.725" y="1050.25" font-family="IPAGothic, 'Noto Sans CJK JP', monospace" font-size="21.7" text-anchor="middle" stroke="#000" stroke-width="0.35" fill="#000">初中級</text>
<text y="713.1" font-size="21.7" text-anchor="middle"><tspan x="554.375" font-family="IPAGothic, 'Noto Sans CJK JP', monospace" stroke="#000" stroke-width="0.15">Ｊ</tspan><tspan x="570.475" font-family="IPAGothic, 'Noto Sans CJK JP', monospace" stroke="#000" stroke-width="0.15">ｒ</tspan></text>
<text transform="translate(587.275,713.1) scale(0.86,1)" font-family="'Noto Serif CJK SC', 'Noto Serif CJK JP', serif" font-size="19.5" text-anchor="middle" font-weight="700" fill="#000">Ⅱ</text>
<text y="841.7" font-size="21.7" text-anchor="middle"><tspan x="554.375" font-family="IPAGothic, 'Noto Sans CJK JP', monospace" stroke="#000" stroke-width="0.15">Ｊ</tspan><tspan x="570.475" font-family="IPAGothic, 'Noto Sans CJK JP', monospace" stroke="#000" stroke-width="0.15">ｒ</tspan></text>
<text transform="translate(587.275,841.7) scale(0.8,1)" font-family="'Noto Serif CJK SC', 'Noto Serif CJK JP', serif" font-size="19.5" text-anchor="middle" font-weight="700" fill="#000">Ⅲ</text>
<text x="570.975" y="947.375" font-family="IPAGothic, 'Noto Sans CJK JP', monospace" font-size="21.7" text-anchor="middle" stroke="#000" stroke-width="0.35" fill="#000">中上級</text>
<text x="570.975" y="1050.25" font-family="IPAGothic, 'Noto Sans CJK JP', monospace" font-size="21.7" text-anchor="middle" stroke="#000" stroke-width="0.35" fill="#000">初級</text>
<text x="663.225" y="422.15" font-family="IPAGothic, 'Noto Sans CJK JP', monospace" font-size="21.7" text-anchor="middle" stroke="#000" stroke-width="0.35" fill="#000">初心</text>
<text x="663.225" y="533.9" font-family="IPAGothic, 'Noto Sans CJK JP', monospace" font-size="21.7" text-anchor="middle" stroke="#000" stroke-width="0.35" fill="#000">初中級</text>
<text y="699.7" font-size="21.7" text-anchor="middle"><tspan x="646.625" font-family="IPAGothic, 'Noto Sans CJK JP', monospace" stroke="#000" stroke-width="0.15">Ｊ</tspan><tspan x="662.725" font-family="IPAGothic, 'Noto Sans CJK JP', monospace" stroke="#000" stroke-width="0.15">ｒ</tspan></text>
<text x="679.525" y="699.7" font-family="'Noto Serif CJK SC', 'Noto Serif CJK JP', serif" font-size="19.5" text-anchor="middle" font-weight="700" fill="#000">Ⅰ</text>
<text x="663.225" y="801.9" font-family="IPAGothic, 'Noto Sans CJK JP', monospace" font-size="21.7" text-anchor="middle" stroke="#000" stroke-width="0.35" fill="#000">育成</text>
<text x="619.5" y="748.7" font-family="IPAGothic, 'Noto Sans CJK JP', monospace" font-size="12.5" fill="#000">17:30～</text>
<text x="663.225" y="947.375" font-family="IPAGothic, 'Noto Sans CJK JP', monospace" font-size="21.7" text-anchor="middle" stroke="#000" stroke-width="0.35" fill="#000">初中級</text>
<text x="755.475" y="433.9" font-family="IPAGothic, 'Noto Sans CJK JP', monospace" font-size="21.7" text-anchor="middle" stroke="#000" stroke-width="0.35" fill="#000">中級</text>
<text x="755.475" y="533.9" font-family="IPAGothic, 'Noto Sans CJK JP', monospace" font-size="21.7" text-anchor="middle" stroke="#000" stroke-width="0.35" fill="#000">初級</text>
<text y="710.7" font-size="21.7" text-anchor="middle"><tspan x="738.875" font-family="IPAGothic, 'Noto Sans CJK JP', monospace" stroke="#000" stroke-width="0.15">Ｊ</tspan><tspan x="754.975" font-family="IPAGothic, 'Noto Sans CJK JP', monospace" stroke="#000" stroke-width="0.15">ｒ</tspan></text>
<text transform="translate(771.775,710.7) scale(0.86,1)" font-family="'Noto Serif CJK SC', 'Noto Serif CJK JP', serif" font-size="19.5" text-anchor="middle" font-weight="700" fill="#000">Ⅱ</text>
<text x="755.475" y="932" font-family="IPAGothic, 'Noto Sans CJK JP', monospace" font-size="21.7" text-anchor="middle" stroke="#000" stroke-width="0.35" fill="#000">初心</text>
<text x="755.475" y="1023.65" font-family="IPAGothic, 'Noto Sans CJK JP', monospace" font-size="21.7" text-anchor="middle" stroke="#000" stroke-width="0.35" fill="#000">初級</text>
<text x="847.725" y="239.9" font-family="IPAGothic, 'Noto Sans CJK JP', monospace" font-size="21.7" text-anchor="middle" stroke="#000" stroke-width="0.35" fill="#000">初中級</text>
<text x="847.725" y="325.9" font-family="IPAGothic, 'Noto Sans CJK JP', monospace" font-size="21.7" text-anchor="middle" stroke="#000" stroke-width="0.35" fill="#000">初心</text>
<text y="699.7" font-size="21.7" text-anchor="middle"><tspan x="831.125" font-family="IPAGothic, 'Noto Sans CJK JP', monospace" stroke="#000" stroke-width="0.15">Ｊ</tspan><tspan x="847.225" font-family="IPAGothic, 'Noto Sans CJK JP', monospace" stroke="#000" stroke-width="0.15">ｒ</tspan></text>
<text x="864.025" y="699.7" font-family="'Noto Serif CJK SC', 'Noto Serif CJK JP', serif" font-size="19.5" text-anchor="middle" font-weight="700" fill="#000">Ⅰ</text>
<text y="774.7" font-size="21.7" text-anchor="middle"><tspan x="831.125" font-family="IPAGothic, 'Noto Sans CJK JP', monospace" stroke="#000" stroke-width="0.15">Ｊ</tspan><tspan x="847.225" font-family="IPAGothic, 'Noto Sans CJK JP', monospace" stroke="#000" stroke-width="0.15">ｒ</tspan></text>
<text x="864.025" y="774.7" font-family="'Noto Serif CJK SC', 'Noto Serif CJK JP', serif" font-size="19.5" text-anchor="middle" font-weight="700" fill="#000">Ⅰ</text>
<text x="804" y="748.7" font-family="IPAGothic, 'Noto Sans CJK JP', monospace" font-size="12.5" fill="#000">17:30～</text>
<text x="847.725" y="932" font-family="IPAGothic, 'Noto Sans CJK JP', monospace" font-size="21.7" text-anchor="middle" stroke="#000" stroke-width="0.35" fill="#000">初心</text>
<text x="847.725" y="1050.25" font-family="IPAGothic, 'Noto Sans CJK JP', monospace" font-size="21.7" text-anchor="middle" stroke="#000" stroke-width="0.35" fill="#000">中級</text>
<text x="939.975" y="338.4" font-family="IPAGothic, 'Noto Sans CJK JP', monospace" font-size="21.7" text-anchor="middle" stroke="#000" stroke-width="0.35" fill="#000">初級</text>
<text y="710.7" font-size="21.7" text-anchor="middle"><tspan x="923.375" font-family="IPAGothic, 'Noto Sans CJK JP', monospace" stroke="#000" stroke-width="0.15">Ｊ</tspan><tspan x="939.475" font-family="IPAGothic, 'Noto Sans CJK JP', monospace" stroke="#000" stroke-width="0.15">ｒ</tspan></text>
<text transform="translate(956.275,710.7) scale(0.86,1)" font-family="'Noto Serif CJK SC', 'Noto Serif CJK JP', serif" font-size="19.5" text-anchor="middle" font-weight="700" fill="#000">Ⅱ</text>
<text x="939.975" y="827.9" font-family="IPAGothic, 'Noto Sans CJK JP', monospace" font-size="21.7" text-anchor="middle" stroke="#000" stroke-width="0.35" fill="#000">育成</text>
<text x="939.975" y="947.375" font-family="IPAGothic, 'Noto Sans CJK JP', monospace" font-size="21.7" text-anchor="middle" stroke="#000" stroke-width="0.35" fill="#000">初中級</text>
<text x="939.975" y="1050.25" font-family="IPAGothic, 'Noto Sans CJK JP', monospace" font-size="21.7" text-anchor="middle" stroke="#000" stroke-width="0.35" fill="#000">初級</text>
<text x="1032.22" y="239.9" font-family="IPAGothic, 'Noto Sans CJK JP', monospace" font-size="21.7" text-anchor="middle" stroke="#000" stroke-width="0.35" fill="#000">初中級</text>
<text x="1032.22" y="338.4" font-family="IPAGothic, 'Noto Sans CJK JP', monospace" font-size="21.7" text-anchor="middle" stroke="#000" stroke-width="0.35" fill="#000">中上級</text>
<text x="1032.22" y="433.9" font-family="IPAGothic, 'Noto Sans CJK JP', monospace" font-size="21.7" text-anchor="middle" stroke="#000" stroke-width="0.35" fill="#000">初中級</text>
<text x="1032.22" y="533.9" font-family="IPAGothic, 'Noto Sans CJK JP', monospace" font-size="21.7" text-anchor="middle" stroke="#000" stroke-width="0.35" fill="#000">中級</text>
<text x="1032.22" y="622.2" font-family="IPAGothic, 'Noto Sans CJK JP', monospace" font-size="21.7" text-anchor="middle" stroke="#000" stroke-width="0.35" fill="#000">キッズ</text>
<text y="699.7" font-size="21.7" text-anchor="middle"><tspan x="1015.62" font-family="IPAGothic, 'Noto Sans CJK JP', monospace" stroke="#000" stroke-width="0.15">Ｊ</tspan><tspan x="1031.72" font-family="IPAGothic, 'Noto Sans CJK JP', monospace" stroke="#000" stroke-width="0.15">ｒ</tspan></text>
<text x="1048.52" y="699.7" font-family="'Noto Serif CJK SC', 'Noto Serif CJK JP', serif" font-size="19.5" text-anchor="middle" font-weight="700" fill="#000">Ⅰ</text>
<text y="776.7" font-size="21.7" text-anchor="middle"><tspan x="1015.62" font-family="IPAGothic, 'Noto Sans CJK JP', monospace" stroke="#000" stroke-width="0.15">Ｊ</tspan><tspan x="1031.72" font-family="IPAGothic, 'Noto Sans CJK JP', monospace" stroke="#000" stroke-width="0.15">ｒ</tspan></text>
<text x="1048.52" y="776.7" font-family="'Noto Serif CJK SC', 'Noto Serif CJK JP', serif" font-size="19.5" text-anchor="middle" font-weight="700" fill="#000">Ⅰ</text>
<text x="988.5" y="748.7" font-family="IPAGothic, 'Noto Sans CJK JP', monospace" font-size="12.5" fill="#000">17:30～</text>
<text x="1032.22" y="843.6" font-family="IPAGothic, 'Noto Sans CJK JP', monospace" font-size="21.7" text-anchor="middle" stroke="#000" stroke-width="0.35" fill="#000">育成</text>
<text x="1032.22" y="947.375" font-family="IPAGothic, 'Noto Sans CJK JP', monospace" font-size="21.7" text-anchor="middle" stroke="#000" stroke-width="0.35" fill="#000">中級</text>
<text x="1032.22" y="1038.5" font-family="IPAGothic, 'Noto Sans CJK JP', monospace" font-size="21.7" text-anchor="middle" stroke="#000" stroke-width="0.35" fill="#000">初心</text>
<text y="713.1" font-size="21.7" text-anchor="middle"><tspan x="1107.88" font-family="IPAGothic, 'Noto Sans CJK JP', monospace" stroke="#000" stroke-width="0.15">Ｊ</tspan><tspan x="1123.97" font-family="IPAGothic, 'Noto Sans CJK JP', monospace" stroke="#000" stroke-width="0.15">ｒ</tspan></text>
<text transform="translate(1140.77,713.1) scale(0.86,1)" font-family="'Noto Serif CJK SC', 'Noto Serif CJK JP', serif" font-size="19.5" text-anchor="middle" font-weight="700" fill="#000">Ⅱ</text>
<text y="841.7" font-size="21.7" text-anchor="middle"><tspan x="1107.88" font-family="IPAGothic, 'Noto Sans CJK JP', monospace" stroke="#000" stroke-width="0.15">Ｊ</tspan><tspan x="1123.97" font-family="IPAGothic, 'Noto Sans CJK JP', monospace" stroke="#000" stroke-width="0.15">ｒ</tspan></text>
<text transform="translate(1140.77,841.7) scale(0.8,1)" font-family="'Noto Serif CJK SC', 'Noto Serif CJK JP', serif" font-size="19.5" text-anchor="middle" font-weight="700" fill="#000">Ⅲ</text>
<text x="1124.47" y="947.375" font-family="IPAGothic, 'Noto Sans CJK JP', monospace" font-size="21.7" text-anchor="middle" stroke="#000" stroke-width="0.35" fill="#000">初級</text>
<text x="1124.47" y="1050.25" font-family="IPAGothic, 'Noto Sans CJK JP', monospace" font-size="21.7" text-anchor="middle" stroke="#000" stroke-width="0.35" fill="#000">初中級</text>
<text x="1346.85" y="138.025" font-family="IPAGothic, 'Noto Sans CJK JP', monospace" font-size="21.7" text-anchor="middle" stroke="#000" stroke-width="0.35" fill="#000">初級</text>
<text y="240.2" font-size="21.7" text-anchor="middle"><tspan x="1330.25" font-family="IPAGothic, 'Noto Sans CJK JP', monospace" stroke="#000" stroke-width="0.15">Ｊ</tspan><tspan x="1346.35" font-family="IPAGothic, 'Noto Sans CJK JP', monospace" stroke="#000" stroke-width="0.15">ｒ</tspan></text>
<text transform="translate(1363.15,240.2) scale(0.86,1)" font-family="'Noto Serif CJK SC', 'Noto Serif CJK JP', serif" font-size="19.5" text-anchor="middle" font-weight="700" fill="#000">Ⅱ</text>
<text x="1346.85" y="337.9" font-family="IPAGothic, 'Noto Sans CJK JP', monospace" font-size="21.7" text-anchor="middle" stroke="#000" stroke-width="0.35" fill="#000">初中級</text>
<text y="434.825" font-size="21.7" text-anchor="middle"><tspan x="1330.25" font-family="IPAGothic, 'Noto Sans CJK JP', monospace" stroke="#000" stroke-width="0.15">Ｊ</tspan><tspan x="1346.35" font-family="IPAGothic, 'Noto Sans CJK JP', monospace" stroke="#000" stroke-width="0.15">ｒ</tspan></text>
<text transform="translate(1363.15,434.825) scale(0.86,1)" font-family="'Noto Serif CJK SC', 'Noto Serif CJK JP', serif" font-size="19.5" text-anchor="middle" font-weight="700" fill="#000">Ⅱ</text>
<text y="517.6" font-size="22.3"><tspan x="1325.85" font-family="'Liberation Sans', IPAGothic, sans-serif">Jr</tspan><tspan x="1359.85" text-anchor="middle" font-family="'Noto Serif CJK SC', 'Noto Serif CJK JP', serif" font-weight="600" font-size="20">Ⅰ</tspan></text>
<text x="1346.85" y="601.9" font-family="IPAGothic, 'Noto Sans CJK JP', monospace" font-size="21.7" text-anchor="middle" stroke="#000" stroke-width="0.35" fill="#000">中級</text>
<text x="1303" y="563.2" font-family="IPAGothic, 'Noto Sans CJK JP', monospace" font-size="12.5" fill="#000">15:00～</text>
<text y="695.6" font-size="22.3"><tspan x="1325.85" font-family="'Liberation Sans', IPAGothic, sans-serif">Jr</tspan><tspan x="1359.85" text-anchor="middle" font-family="'Noto Serif CJK SC', 'Noto Serif CJK JP', serif" font-weight="600" font-size="20">Ⅰ</tspan></text>
<text x="1303" y="667.2" font-family="IPAGothic, 'Noto Sans CJK JP', monospace" font-size="12.5" fill="#000">16:30～</text>
<text x="1346.85" y="773.9" font-family="IPAGothic, 'Noto Sans CJK JP', monospace" font-size="21.7" text-anchor="middle" stroke="#000" stroke-width="0.35" fill="#000">初心</text>
<text x="1303" y="748.7" font-family="IPAGothic, 'Noto Sans CJK JP', monospace" font-size="12.5" fill="#000">17:30～</text>
<text x="1346.85" y="870.65" font-family="IPAGothic, 'Noto Sans CJK JP', monospace" font-size="21.7" text-anchor="middle" stroke="#000" stroke-width="0.35" fill="#000">中級</text>
<text x="1439.35" y="138.025" font-family="IPAGothic, 'Noto Sans CJK JP', monospace" font-size="21.7" text-anchor="middle" stroke="#000" stroke-width="0.35" fill="#000">初中級</text>
<text x="1439.35" y="239.4" font-family="IPAGothic, 'Noto Sans CJK JP', monospace" font-size="21.7" text-anchor="middle" stroke="#000" stroke-width="0.35" fill="#000">中級</text>
<text x="1439.35" y="325.9" font-family="IPAGothic, 'Noto Sans CJK JP', monospace" font-size="21.7" text-anchor="middle" stroke="#000" stroke-width="0.35" fill="#000">初心</text>
<text x="1439.35" y="533.65" font-family="IPAGothic, 'Noto Sans CJK JP', monospace" font-size="21.7" text-anchor="middle" stroke="#000" stroke-width="0.35" fill="#000">初中級</text>
<text x="1439.35" y="647.525" font-family="IPAGothic, 'Noto Sans CJK JP', monospace" font-size="21.7" text-anchor="middle" stroke="#000" stroke-width="0.35" fill="#000">初級</text>
<text x="1439.35" y="763.65" font-family="IPAGothic, 'Noto Sans CJK JP', monospace" font-size="21.7" text-anchor="middle" stroke="#000" stroke-width="0.35" fill="#000">中上級</text>
<text y="176.6" font-size="22.3"><tspan x="1510.85" font-family="'Liberation Sans', IPAGothic, sans-serif">Jr</tspan><tspan x="1544.85" text-anchor="middle" font-family="'Noto Serif CJK SC', 'Noto Serif CJK JP', serif" font-weight="600" font-size="20">Ⅰ</tspan></text>
<text x="1488" y="149.7" font-family="IPAGothic, 'Noto Sans CJK JP', monospace" font-size="12.5" fill="#000">9:00～</text>
<text x="1531.85" y="251.9" font-family="IPAGothic, 'Noto Sans CJK JP', monospace" font-size="21.7" text-anchor="middle" stroke="#000" stroke-width="0.35" fill="#000">初心</text>
<text x="1488" y="227.95" font-family="IPAGothic, 'Noto Sans CJK JP', monospace" font-size="12.5" fill="#000">10:00～</text>
<text x="1531.85" y="337.9" font-family="IPAGothic, 'Noto Sans CJK JP', monospace" font-size="21.7" text-anchor="middle" stroke="#000" stroke-width="0.35" fill="#000">初中級</text>
<text y="434.825" font-size="21.7" text-anchor="middle"><tspan x="1515.25" font-family="IPAGothic, 'Noto Sans CJK JP', monospace" stroke="#000" stroke-width="0.15">Ｊ</tspan><tspan x="1531.35" font-family="IPAGothic, 'Noto Sans CJK JP', monospace" stroke="#000" stroke-width="0.15">ｒ</tspan></text>
<text transform="translate(1548.15,434.825) scale(0.8,1)" font-family="'Noto Serif CJK SC', 'Noto Serif CJK JP', serif" font-size="19.5" text-anchor="middle" font-weight="700" fill="#000">Ⅲ</text>
<text x="1531.85" y="533.65" font-family="IPAGothic, 'Noto Sans CJK JP', monospace" font-size="21.7" text-anchor="middle" stroke="#000" stroke-width="0.35" fill="#000">初級</text>
<text x="1531.85" y="621.775" font-family="IPAGothic, 'Noto Sans CJK JP', monospace" font-size="21.7" text-anchor="middle" stroke="#000" stroke-width="0.35" fill="#000">キッズ</text>
<text x="1531.85" y="695.9" font-family="IPAGothic, 'Noto Sans CJK JP', monospace" font-size="21.7" text-anchor="middle" stroke="#000" stroke-width="0.35" fill="#000">初心</text>
<text x="1488" y="667.2" font-family="IPAGothic, 'Noto Sans CJK JP', monospace" font-size="12.5" fill="#000">16:30～</text>
<text y="773.6" font-size="22.3"><tspan x="1510.85" font-family="'Liberation Sans', IPAGothic, sans-serif">Jr</tspan><tspan x="1544.85" text-anchor="middle" font-family="'Noto Serif CJK SC', 'Noto Serif CJK JP', serif" font-weight="600" font-size="20">Ⅰ</tspan></text>
<text x="1488" y="748.7" font-family="IPAGothic, 'Noto Sans CJK JP', monospace" font-size="12.5" fill="#000">17:30～</text>
<text x="1624.35" y="138.025" font-family="IPAGothic, 'Noto Sans CJK JP', monospace" font-size="21.7" text-anchor="middle" stroke="#000" stroke-width="0.35" fill="#000">中級</text>
<text y="240.2" font-size="21.7" text-anchor="middle"><tspan x="1607.75" font-family="IPAGothic, 'Noto Sans CJK JP', monospace" stroke="#000" stroke-width="0.15">Ｊ</tspan><tspan x="1623.85" font-family="IPAGothic, 'Noto Sans CJK JP', monospace" stroke="#000" stroke-width="0.15">ｒ</tspan></text>
<text transform="translate(1640.65,240.2) scale(0.86,1)" font-family="'Noto Serif CJK SC', 'Noto Serif CJK JP', serif" font-size="19.5" text-anchor="middle" font-weight="700" fill="#000">Ⅱ</text>
<text x="1624.35" y="337.9" font-family="IPAGothic, 'Noto Sans CJK JP', monospace" font-size="21.7" text-anchor="middle" stroke="#000" stroke-width="0.35" fill="#000">中級</text>
<text x="1624.35" y="434.025" font-family="IPAGothic, 'Noto Sans CJK JP', monospace" font-size="21.7" text-anchor="middle" stroke="#000" stroke-width="0.35" fill="#000">初級</text>
<text x="1624.35" y="533.65" font-family="IPAGothic, 'Noto Sans CJK JP', monospace" font-size="21.7" text-anchor="middle" stroke="#000" stroke-width="0.35" fill="#000">初中級</text>
<text x="1624.35" y="647.525" font-family="IPAGothic, 'Noto Sans CJK JP', monospace" font-size="21.7" text-anchor="middle" stroke="#000" stroke-width="0.35" fill="#000">初級</text>
<text x="1624.35" y="763.65" font-family="IPAGothic, 'Noto Sans CJK JP', monospace" font-size="21.7" text-anchor="middle" stroke="#000" stroke-width="0.35" fill="#000">中上級</text>
<text x="250.5" y="345" font-family="IPAGothic, 'Noto Sans CJK JP', monospace" font-size="15.6" fill="#000">12:00～</text>
<text x="619.5" y="345" font-family="IPAGothic, 'Noto Sans CJK JP', monospace" font-size="15.6" fill="#000">12:00～</text>
<text x="749.375" y="831" font-family="IPAGothic, 'Noto Sans CJK JP', monospace" font-size="12.5" text-anchor="middle" fill="#000">ソフトテニス</text>
<text x="754.375" y="855" font-family="IPAGothic, 'Noto Sans CJK JP', monospace" font-size="14.6" text-anchor="middle" fill="#000">外コート</text>
<text x="841.625" y="831" font-family="IPAGothic, 'Noto Sans CJK JP', monospace" font-size="12.5" text-anchor="middle" fill="#000">ソフトテニス</text>
<text x="846.625" y="855" font-family="IPAGothic, 'Noto Sans CJK JP', monospace" font-size="14.6" text-anchor="middle" fill="#000">外コート</text>
<text x="1438.75" y="855" font-family="IPAGothic, 'Noto Sans CJK JP', monospace" font-size="16" text-anchor="middle" stroke="#000" stroke-width="0.2" fill="#000">シングルス</text>
<text x="1438.75" y="877" font-family="IPAGothic, 'Noto Sans CJK JP', monospace" font-size="12.2" text-anchor="middle" fill="#000">中上級以上</text>
<text transform="translate(178.5,204.6) scale(0.81,1)" font-family="'Liberation Sans', IPAGothic, sans-serif" font-size="21" fill="#000">9:30</text>
<text x="212.801" y="205.1" font-family="'Noto Sans CJK JP', sans-serif" font-size="15.5" font-weight="700" fill="#000">～</text>
<text transform="translate(242.8,274.5) scale(0.81,1)" font-family="'Liberation Sans', IPAGothic, sans-serif" font-size="21" text-anchor="end" fill="#000">10:55</text>
<text x="199.041" y="275" font-family="'Noto Sans CJK JP', sans-serif" font-size="15.5" text-anchor="end" font-weight="700" fill="#000">～</text>
<text transform="translate(178.5,304.6) scale(0.81,1)" font-family="'Liberation Sans', IPAGothic, sans-serif" font-size="21" fill="#000">11:00</text>
<text x="222.259" y="305.1" font-family="'Noto Sans CJK JP', sans-serif" font-size="15.5" font-weight="700" fill="#000">～</text>
<text transform="translate(242.8,371) scale(0.81,1)" font-family="'Liberation Sans', IPAGothic, sans-serif" font-size="21" text-anchor="end" fill="#000">12:25</text>
<text x="199.041" y="371.5" font-family="'Noto Sans CJK JP', sans-serif" font-size="15.5" text-anchor="end" font-weight="700" fill="#000">～</text>
<text transform="translate(178.5,401.1) scale(0.81,1)" font-family="'Liberation Sans', IPAGothic, sans-serif" font-size="21" fill="#000">12:30</text>
<text x="222.259" y="401.6" font-family="'Noto Sans CJK JP', sans-serif" font-size="15.5" font-weight="700" fill="#000">～</text>
<text transform="translate(242.8,466.5) scale(0.81,1)" font-family="'Liberation Sans', IPAGothic, sans-serif" font-size="21" text-anchor="end" fill="#000">13:55</text>
<text x="199.041" y="467" font-family="'Noto Sans CJK JP', sans-serif" font-size="15.5" text-anchor="end" font-weight="700" fill="#000">～</text>
<text transform="translate(178.5,496.6) scale(0.81,1)" font-family="'Liberation Sans', IPAGothic, sans-serif" font-size="21" fill="#000">14:00</text>
<text x="222.259" y="497.1" font-family="'Noto Sans CJK JP', sans-serif" font-size="15.5" font-weight="700" fill="#000">～</text>
<text transform="translate(242.8,570.1) scale(0.81,1)" font-family="'Liberation Sans', IPAGothic, sans-serif" font-size="21" text-anchor="end" fill="#000">15:25</text>
<text x="199.041" y="570.6" font-family="'Noto Sans CJK JP', sans-serif" font-size="15.5" text-anchor="end" font-weight="700" fill="#000">～</text>
<text transform="translate(178.5,600.2) scale(0.81,1)" font-family="'Liberation Sans', IPAGothic, sans-serif" font-size="21" fill="#000">15:30</text>
<text x="222.259" y="600.7" font-family="'Noto Sans CJK JP', sans-serif" font-size="15.5" font-weight="700" fill="#000">～</text>
<text transform="translate(242.8,643.5) scale(0.81,1)" font-family="'Liberation Sans', IPAGothic, sans-serif" font-size="21" text-anchor="end" fill="#000">16:25</text>
<text x="199.041" y="644" font-family="'Noto Sans CJK JP', sans-serif" font-size="15.5" text-anchor="end" font-weight="700" fill="#000">～</text>
<text transform="translate(178.5,673.6) scale(0.81,1)" font-family="'Liberation Sans', IPAGothic, sans-serif" font-size="21" fill="#000">16:30</text>
<text x="222.259" y="674.1" font-family="'Noto Sans CJK JP', sans-serif" font-size="15.5" font-weight="700" fill="#000">～</text>
<text transform="translate(242.8,773.5) scale(0.81,1)" font-family="'Liberation Sans', IPAGothic, sans-serif" font-size="21" text-anchor="end" fill="#000">17:55</text>
<text x="199.041" y="774" font-family="'Noto Sans CJK JP', sans-serif" font-size="15.5" text-anchor="end" font-weight="700" fill="#000">～</text>
<text transform="translate(178.5,803.6) scale(0.81,1)" font-family="'Liberation Sans', IPAGothic, sans-serif" font-size="21" fill="#000">18:00</text>
<text x="222.259" y="804.1" font-family="'Noto Sans CJK JP', sans-serif" font-size="15.5" font-weight="700" fill="#000">～</text>
<text transform="translate(242.8,877.7) scale(0.81,1)" font-family="'Liberation Sans', IPAGothic, sans-serif" font-size="21" text-anchor="end" fill="#000">19:25</text>
<text x="199.041" y="878.2" font-family="'Noto Sans CJK JP', sans-serif" font-size="15.5" text-anchor="end" font-weight="700" fill="#000">～</text>
<text transform="translate(178.5,907.8) scale(0.81,1)" font-family="'Liberation Sans', IPAGothic, sans-serif" font-size="21" fill="#000">19:30</text>
<text x="222.259" y="908.3" font-family="'Noto Sans CJK JP', sans-serif" font-size="15.5" font-weight="700" fill="#000">～</text>
<text transform="translate(242.8,986.7) scale(0.81,1)" font-family="'Liberation Sans', IPAGothic, sans-serif" font-size="21" text-anchor="end" fill="#000">20:55</text>
<text x="199.041" y="987.2" font-family="'Noto Sans CJK JP', sans-serif" font-size="15.5" text-anchor="end" font-weight="700" fill="#000">～</text>
<text transform="translate(177.8,1015.9) scale(0.81,1)" font-family="'Liberation Sans', IPAGothic, sans-serif" font-size="18.3" fill="#000">21:00</text>
<text x="216.387" y="1016.1" font-family="'Noto Sans CJK JP', sans-serif" font-size="14.5" font-weight="500" fill="#000">～</text>
<text transform="translate(243.6,1082.7) scale(0.81,1)" font-family="'Liberation Sans', IPAGothic, sans-serif" font-size="18.3" text-anchor="end" fill="#000">22:25</text>
<text x="205.013" y="1082.9" font-family="'Noto Sans CJK JP', sans-serif" font-size="14.5" text-anchor="end" font-weight="500" fill="#000">～</text>
<text transform="translate(1232.5,100.9) scale(0.81,1)" font-family="'Liberation Sans', IPAGothic, sans-serif" font-size="21" fill="#000">8:00</text>
<text x="1266.8" y="101.4" font-family="'Noto Sans CJK JP', sans-serif" font-size="15.5" font-weight="700" fill="#000">～</text>
<text transform="translate(1296,175.4) scale(0.81,1)" font-family="'Liberation Sans', IPAGothic, sans-serif" font-size="21" text-anchor="end" fill="#000">9:25</text>
<text x="1261.7" y="175.9" font-family="'Noto Sans CJK JP', sans-serif" font-size="15.5" text-anchor="end" font-weight="700" fill="#000">～</text>
<text transform="translate(1232.5,204.1) scale(0.81,1)" font-family="'Liberation Sans', IPAGothic, sans-serif" font-size="21" fill="#000">9:30</text>
<text x="1266.8" y="204.6" font-family="'Noto Sans CJK JP', sans-serif" font-size="15.5" font-weight="700" fill="#000">～</text>
<text transform="translate(1296,274.5) scale(0.81,1)" font-family="'Liberation Sans', IPAGothic, sans-serif" font-size="21" text-anchor="end" fill="#000">10:55</text>
<text x="1252.24" y="275" font-family="'Noto Sans CJK JP', sans-serif" font-size="15.5" text-anchor="end" font-weight="700" fill="#000">～</text>
<text transform="translate(1232.5,304.6) scale(0.81,1)" font-family="'Liberation Sans', IPAGothic, sans-serif" font-size="21" fill="#000">11:00</text>
<text x="1276.26" y="305.1" font-family="'Noto Sans CJK JP', sans-serif" font-size="15.5" font-weight="700" fill="#000">～</text>
<text transform="translate(1296,371) scale(0.81,1)" font-family="'Liberation Sans', IPAGothic, sans-serif" font-size="21" text-anchor="end" fill="#000">12:25</text>
<text x="1252.24" y="371.5" font-family="'Noto Sans CJK JP', sans-serif" font-size="15.5" text-anchor="end" font-weight="700" fill="#000">～</text>
<text transform="translate(1232.5,401.1) scale(0.81,1)" font-family="'Liberation Sans', IPAGothic, sans-serif" font-size="21" fill="#000">12:30</text>
<text x="1276.26" y="401.6" font-family="'Noto Sans CJK JP', sans-serif" font-size="15.5" font-weight="700" fill="#000">～</text>
<text transform="translate(1296,466.5) scale(0.81,1)" font-family="'Liberation Sans', IPAGothic, sans-serif" font-size="21" text-anchor="end" fill="#000">13:55</text>
<text x="1252.24" y="467" font-family="'Noto Sans CJK JP', sans-serif" font-size="15.5" text-anchor="end" font-weight="700" fill="#000">～</text>
<text transform="translate(1232.5,496.6) scale(0.81,1)" font-family="'Liberation Sans', IPAGothic, sans-serif" font-size="21" fill="#000">14:00</text>
<text x="1276.26" y="497.1" font-family="'Noto Sans CJK JP', sans-serif" font-size="15.5" font-weight="700" fill="#000">～</text>
<text transform="translate(1296,570.25) scale(0.81,1)" font-family="'Liberation Sans', IPAGothic, sans-serif" font-size="21" text-anchor="end" fill="#000">15:25</text>
<text x="1252.24" y="570.75" font-family="'Noto Sans CJK JP', sans-serif" font-size="15.5" text-anchor="end" font-weight="700" fill="#000">～</text>
<text transform="translate(1232.5,600.35) scale(0.81,1)" font-family="'Liberation Sans', IPAGothic, sans-serif" font-size="21" fill="#000">15:30</text>
<text x="1276.26" y="600.85" font-family="'Noto Sans CJK JP', sans-serif" font-size="15.5" font-weight="700" fill="#000">～</text>
<text transform="translate(1296,694.5) scale(0.81,1)" font-family="'Liberation Sans', IPAGothic, sans-serif" font-size="21" text-anchor="end" fill="#000">16:55</text>
<text x="1252.24" y="695" font-family="'Noto Sans CJK JP', sans-serif" font-size="15.5" text-anchor="end" font-weight="700" fill="#000">～</text>
<text transform="translate(1232.5,724.6) scale(0.81,1)" font-family="'Liberation Sans', IPAGothic, sans-serif" font-size="21" fill="#000">17:00</text>
<text x="1276.26" y="725.1" font-family="'Noto Sans CJK JP', sans-serif" font-size="15.5" font-weight="700" fill="#000">～</text>
<text transform="translate(1296,803.5) scale(0.81,1)" font-family="'Liberation Sans', IPAGothic, sans-serif" font-size="21" text-anchor="end" fill="#000">18:25</text>
<text x="1252.24" y="804" font-family="'Noto Sans CJK JP', sans-serif" font-size="15.5" text-anchor="end" font-weight="700" fill="#000">～</text>
<text transform="translate(1232.5,833.6) scale(0.81,1)" font-family="'Liberation Sans', IPAGothic, sans-serif" font-size="21" fill="#000">18:30</text>
<text x="1276.26" y="834.1" font-family="'Noto Sans CJK JP', sans-serif" font-size="15.5" font-weight="700" fill="#000">～</text>
<text transform="translate(1296,908) scale(0.81,1)" font-family="'Liberation Sans', IPAGothic, sans-serif" font-size="21" text-anchor="end" fill="#000">19:55</text>
<text x="1252.24" y="908.5" font-family="'Noto Sans CJK JP', sans-serif" font-size="15.5" text-anchor="end" font-weight="700" fill="#000">～</text>
<text transform="translate(1232.5,936.3) scale(0.81,1)" font-family="'Liberation Sans', IPAGothic, sans-serif" font-size="21" fill="#000">20:00</text>
<text x="1276.26" y="936.8" font-family="'Noto Sans CJK JP', sans-serif" font-size="15.5" font-weight="700" fill="#000">～</text>
<text transform="translate(1296,1017.5) scale(0.81,1)" font-family="'Liberation Sans', IPAGothic, sans-serif" font-size="21" text-anchor="end" fill="#000">21:25</text>
<text x="1252.24" y="1018" font-family="'Noto Sans CJK JP', sans-serif" font-size="15.5" text-anchor="end" font-weight="700" fill="#000">～</text>
<text x="164" y="236.9" font-family="IPAGothic, 'Noto Sans CJK JP', monospace" font-size="13" text-anchor="middle" fill="#000">A</text>
<text x="164" y="335.15" font-family="IPAGothic, 'Noto Sans CJK JP', monospace" font-size="13" text-anchor="middle" fill="#000">B</text>
<text x="164" y="431.15" font-family="IPAGothic, 'Noto Sans CJK JP', monospace" font-size="13" text-anchor="middle" fill="#000">C</text>
<text x="164" y="530.7" font-family="IPAGothic, 'Noto Sans CJK JP', monospace" font-size="13" text-anchor="middle" fill="#000">D</text>
<text x="164" y="619.2" font-family="IPAGothic, 'Noto Sans CJK JP', monospace" font-size="13" text-anchor="middle" fill="#000">E</text>
<text x="164" y="720.9" font-family="IPAGothic, 'Noto Sans CJK JP', monospace" font-size="13" text-anchor="middle" fill="#000">F</text>
<text x="164" y="838" font-family="IPAGothic, 'Noto Sans CJK JP', monospace" font-size="13" text-anchor="middle" fill="#000">G</text>
<text x="164" y="944.6" font-family="IPAGothic, 'Noto Sans CJK JP', monospace" font-size="13" text-anchor="middle" fill="#000">H</text>
<text x="164" y="1047.1" font-family="IPAGothic, 'Noto Sans CJK JP', monospace" font-size="13" text-anchor="middle" fill="#000">I</text>
<text x="1217.5" y="136.1" font-family="IPAGothic, 'Noto Sans CJK JP', monospace" font-size="13" text-anchor="middle" fill="#000">J</text>
<text x="1217.5" y="236.65" font-family="IPAGothic, 'Noto Sans CJK JP', monospace" font-size="13" text-anchor="middle" fill="#000">K</text>
<text x="1217.5" y="335.15" font-family="IPAGothic, 'Noto Sans CJK JP', monospace" font-size="13" text-anchor="middle" fill="#000">L</text>
<text x="1217.5" y="431.15" font-family="IPAGothic, 'Noto Sans CJK JP', monospace" font-size="13" text-anchor="middle" fill="#000">M</text>
<text x="1217.5" y="530.775" font-family="IPAGothic, 'Noto Sans CJK JP', monospace" font-size="13" text-anchor="middle" fill="#000">N</text>
<text x="1217.3" y="644.775" font-family="'Liberation Sans', IPAGothic, sans-serif" font-size="11.5" text-anchor="middle" fill="#000">O</text>
<text x="1217.3" y="761.4" font-family="'Liberation Sans', IPAGothic, sans-serif" font-size="11.5" text-anchor="middle" fill="#000">P</text>
<text x="1217.3" y="868.15" font-family="'Liberation Sans', IPAGothic, sans-serif" font-size="11.5" text-anchor="middle" fill="#000">Q</text>
<text x="1217.3" y="974.15" font-family="'Liberation Sans', IPAGothic, sans-serif" font-size="11.5" text-anchor="middle" fill="#000">R</text>
<text x="339.75" y="154" font-family="IPAGothic, 'Noto Sans CJK JP', monospace" font-size="15.5" text-anchor="middle" fill="#000">月</text>
<text x="524.25" y="154" font-family="IPAGothic, 'Noto Sans CJK JP', monospace" font-size="15.5" text-anchor="middle" fill="#000">火</text>
<text x="708.75" y="154" font-family="IPAGothic, 'Noto Sans CJK JP', monospace" font-size="15.5" text-anchor="middle" fill="#000">水</text>
<text x="893.25" y="154" font-family="IPAGothic, 'Noto Sans CJK JP', monospace" font-size="15.5" text-anchor="middle" fill="#000">木</text>
<text x="1077.75" y="154" font-family="IPAGothic, 'Noto Sans CJK JP', monospace" font-size="15.5" text-anchor="middle" fill="#000">金</text>
<text transform="translate(293.125,176.4) scale(0.82,1)" font-family="IPAGothic, 'Noto Sans CJK JP', monospace" font-size="15.4" text-anchor="middle" fill="#000">No. 1</text>
<text transform="translate(385.375,176.4) scale(0.82,1)" font-family="IPAGothic, 'Noto Sans CJK JP', monospace" font-size="15.4" text-anchor="middle" fill="#000">No. 2</text>
<text transform="translate(477.625,176.4) scale(0.82,1)" font-family="IPAGothic, 'Noto Sans CJK JP', monospace" font-size="15.4" text-anchor="middle" fill="#000">No. 1</text>
<text transform="translate(569.875,176.4) scale(0.82,1)" font-family="IPAGothic, 'Noto Sans CJK JP', monospace" font-size="15.4" text-anchor="middle" fill="#000">No. 2</text>
<text transform="translate(662.125,176.4) scale(0.82,1)" font-family="IPAGothic, 'Noto Sans CJK JP', monospace" font-size="15.4" text-anchor="middle" fill="#000">No. 1</text>
<text transform="translate(754.375,176.4) scale(0.82,1)" font-family="IPAGothic, 'Noto Sans CJK JP', monospace" font-size="15.4" text-anchor="middle" fill="#000">No. 2</text>
<text transform="translate(846.625,176.4) scale(0.82,1)" font-family="IPAGothic, 'Noto Sans CJK JP', monospace" font-size="15.4" text-anchor="middle" fill="#000">No. 1</text>
<text transform="translate(938.875,176.4) scale(0.82,1)" font-family="IPAGothic, 'Noto Sans CJK JP', monospace" font-size="15.4" text-anchor="middle" fill="#000">No. 2</text>
<text transform="translate(1031.12,176.4) scale(0.82,1)" font-family="IPAGothic, 'Noto Sans CJK JP', monospace" font-size="15.4" text-anchor="middle" fill="#000">No. 1</text>
<text transform="translate(1123.38,176.4) scale(0.82,1)" font-family="IPAGothic, 'Noto Sans CJK JP', monospace" font-size="15.4" text-anchor="middle" fill="#000">No. 2</text>
<text x="1392.5" y="58.7" font-family="IPAGothic, 'Noto Sans CJK JP', monospace" font-size="15.5" text-anchor="middle" stroke="#1E9BD7" stroke-width="0.4" fill="#1E9BD7">土</text>
<text x="1577.5" y="58.7" font-family="IPAGothic, 'Noto Sans CJK JP', monospace" font-size="15.5" text-anchor="middle" stroke="#CC0000" stroke-width="0.4" fill="#CC0000">日</text>
<text transform="translate(1345.75,79.3) scale(0.82,1)" font-family="IPAGothic, 'Noto Sans CJK JP', monospace" font-size="15.4" text-anchor="middle" fill="#000">No. 1</text>
<text transform="translate(1438.25,79.3) scale(0.82,1)" font-family="IPAGothic, 'Noto Sans CJK JP', monospace" font-size="15.4" text-anchor="middle" fill="#000">No. 2</text>
<text transform="translate(1530.75,79.3) scale(0.82,1)" font-family="IPAGothic, 'Noto Sans CJK JP', monospace" font-size="15.4" text-anchor="middle" fill="#000">No. 1</text>
<text transform="translate(1623.25,79.3) scale(0.82,1)" font-family="IPAGothic, 'Noto Sans CJK JP', monospace" font-size="15.4" text-anchor="middle" fill="#000">No. 2</text>
<text x="1666" y="37.7" font-family="IPAGothic, 'Noto Sans CJK JP', monospace" font-size="10.6" text-anchor="end" fill="#000">2025/3/27</text>
<text x="138" y="341.5" font-family="IPAGothic, 'Noto Sans CJK JP', monospace" font-size="14.6" text-anchor="middle" fill="#000">平</text>
<text x="138" y="358.5" font-family="IPAGothic, 'Noto Sans CJK JP', monospace" font-size="14.6" text-anchor="middle" fill="#000">日</text>
<text x="138" y="375.5" font-family="IPAGothic, 'Noto Sans CJK JP', monospace" font-size="14.6" text-anchor="middle" fill="#000">昼</text>
<text x="138" y="392.5" font-family="IPAGothic, 'Noto Sans CJK JP', monospace" font-size="14.6" text-anchor="middle" fill="#000">ク</text>
<text x="138" y="409.5" font-family="IPAGothic, 'Noto Sans CJK JP', monospace" font-size="14.6" text-anchor="middle" fill="#000">ラ</text>
<text x="138" y="426.5" font-family="IPAGothic, 'Noto Sans CJK JP', monospace" font-size="14.6" text-anchor="middle" fill="#000">ス</text>
<text x="138" y="709.5" font-family="IPAGothic, 'Noto Sans CJK JP', monospace" font-size="14.6" text-anchor="middle" fill="#000">ジ</text>
<text x="138" y="726.5" font-family="IPAGothic, 'Noto Sans CJK JP', monospace" font-size="14.6" text-anchor="middle" fill="#000">ュ</text>
<text x="138" y="743.5" font-family="IPAGothic, 'Noto Sans CJK JP', monospace" font-size="14.6" text-anchor="middle" fill="#000">ニ</text>
<text x="138" y="760.5" font-family="IPAGothic, 'Noto Sans CJK JP', monospace" font-size="14.6" text-anchor="middle" fill="#000">ア</text>
<text x="138" y="955" font-family="IPAGothic, 'Noto Sans CJK JP', monospace" font-size="14.6" text-anchor="middle" fill="#000">平</text>
<text x="138" y="972" font-family="IPAGothic, 'Noto Sans CJK JP', monospace" font-size="14.6" text-anchor="middle" fill="#000">日</text>
<text x="138" y="989" font-family="IPAGothic, 'Noto Sans CJK JP', monospace" font-size="14.6" text-anchor="middle" fill="#000">夜</text>
<text x="138" y="1006" font-family="IPAGothic, 'Noto Sans CJK JP', monospace" font-size="14.6" text-anchor="middle" fill="#000">ク</text>
<text x="138" y="1023" font-family="IPAGothic, 'Noto Sans CJK JP', monospace" font-size="14.6" text-anchor="middle" fill="#000">ラ</text>
<text x="138" y="1040" font-family="IPAGothic, 'Noto Sans CJK JP', monospace" font-size="14.6" text-anchor="middle" fill="#000">ス</text>
<text x="1191.5" y="523.1" font-family="IPAGothic, 'Noto Sans CJK JP', monospace" font-size="14.6" text-anchor="middle" fill="#000">土</text>
<text x="1191.5" y="540.7" font-family="IPAGothic, 'Noto Sans CJK JP', monospace" font-size="14.6" text-anchor="middle" fill="#000">日</text>
<text x="1191.5" y="557.2" font-family="IPAGothic, 'Noto Sans CJK JP', monospace" font-size="14.6" text-anchor="middle" fill="#000">ク</text>
<text x="1191.5" y="573.7" font-family="IPAGothic, 'Noto Sans CJK JP', monospace" font-size="14.6" text-anchor="middle" fill="#000">ラ</text>
<text x="1191.5" y="590.3" font-family="IPAGothic, 'Noto Sans CJK JP', monospace" font-size="14.6" text-anchor="middle" fill="#000">ス</text>
<text y="126.6" font-family="IPAGothic, 'Noto Sans CJK JP', monospace" font-size="18.75" stroke="#000" stroke-width="0.2"><tspan x="552.2">7/21</tspan><tspan x="592">(</tspan><tspan x="601.8">月</tspan><tspan x="621.2">)</tspan><tspan x="634.3">～</tspan><tspan x="654.3">10/26</tspan><tspan x="704">(</tspan><tspan x="715">日</tspan><tspan x="733.4">)</tspan><tspan x="746.3" textLength="117.5" lengthAdjust="spacingAndGlyphs">スケジュール</tspan></text>
<text x="541.8" y="75" font-family="'Liberation Sans', IPAGothic, sans-serif" font-size="41.5" stroke="#E2633F" stroke-width="0.5" fill="#E2633F" textLength="340.7" lengthAdjust="spacing">ORANGE FIELD</text>
<text x="610.7" y="101.7" font-family="'Liberation Sans', IPAGothic, sans-serif" font-size="21.5" stroke="#231815" stroke-width="0.3" fill="#231815" textLength="206" lengthAdjust="spacingAndGlyphs">indoor tennis school</text>
<circle cx="474.7" cy="54.6" r="12.3" fill="#E2603A"/>
<circle cx="497.4" cy="65" r="10" fill="#4DB05A"/>
<circle cx="504.3" cy="88" r="8.8" fill="#00529C"/>
<circle cx="493.9" cy="106.6" r="8.2" fill="#F2A73B"/>
<circle cx="474.2" cy="112.9" r="7.4" fill="#E2603A"/>
<circle cx="457" cy="107.4" r="6" fill="#E2603A"/>
<circle cx="446" cy="94.9" r="5" fill="#E2603A"/>
<circle cx="443.8" cy="80.6" r="4.4" fill="#E2603A"/>
<circle cx="448.2" cy="68.3" r="3.5" fill="#E2603A"/>
<circle cx="455.6" cy="60.1" r="2.7" fill="#E2603A"/>
<text transform="translate(161.3,104.8) scale(0.775,1)" font-family="'Liberation Sans', IPAGothic, sans-serif" font-size="65.6" font-weight="bold" fill="#008000">162</text>
<text transform="translate(249.3,104.9) scale(0.94,1)" font-family="'Noto Sans CJK JP', sans-serif" font-size="56" font-weight="900" fill="#008000">期</text>
<text x="251.2" y="1118" font-family="'Liberation Sans', IPAGothic, sans-serif" font-size="13.5" fill="#000" textLength="77" lengthAdjust="spacingAndGlyphs">17:30～19:55</text>
<text x="251.2" y="1137" font-family="'Liberation Sans', IPAGothic, sans-serif" font-size="13.5" fill="#000" textLength="77" lengthAdjust="spacingAndGlyphs">17:30～19:55</text>
<text x="435.7" y="1118" font-family="'Liberation Sans', IPAGothic, sans-serif" font-size="13.5" fill="#000" textLength="77" lengthAdjust="spacingAndGlyphs">17:30～19:55</text>
<text x="435.7" y="1137" font-family="'Liberation Sans', IPAGothic, sans-serif" font-size="13.5" fill="#000" textLength="77" lengthAdjust="spacingAndGlyphs">17:30～19:55</text>
<text x="620.2" y="1118" font-family="'Liberation Sans', IPAGothic, sans-serif" font-size="13.5" fill="#000" textLength="77" lengthAdjust="spacingAndGlyphs">17:30～19:55</text>
<text x="620.2" y="1137" font-family="'Liberation Sans', IPAGothic, sans-serif" font-size="13.5" fill="#000" textLength="77" lengthAdjust="spacingAndGlyphs">17:30～19:55</text>
<text x="804.7" y="1118" font-family="'Liberation Sans', IPAGothic, sans-serif" font-size="13.5" fill="#000" textLength="77" lengthAdjust="spacingAndGlyphs">17:30～19:55</text>
<text x="804.7" y="1137" font-family="'Liberation Sans', IPAGothic, sans-serif" font-size="13.5" fill="#000" textLength="77" lengthAdjust="spacingAndGlyphs">17:30～19:55</text>
<text x="989.2" y="1118" font-family="'Liberation Sans', IPAGothic, sans-serif" font-size="13.5" fill="#000" textLength="166" lengthAdjust="spacingAndGlyphs">17:30～19:55（トーナメント）</text>
<text x="989.2" y="1137" font-family="'Liberation Sans', IPAGothic, sans-serif" font-size="13.5" fill="#000" textLength="77" lengthAdjust="spacingAndGlyphs">17:30～19:55</text>
<text x="595.7" y="1154.7" font-family="'Liberation Sans', IPAGothic, sans-serif" font-size="13.5" fill="#000" textLength="226.3" lengthAdjust="spacingAndGlyphs">20:00～21:00　自主練習(中学生以上)</text>
<text x="1303.7" y="1118" font-family="'Liberation Sans', IPAGothic, sans-serif" font-size="13.5" fill="#000" textLength="205.6" lengthAdjust="spacingAndGlyphs">12:30～13:55 （アドバンス/秀太）</text>
<text x="1303.7" y="1137" font-family="'Liberation Sans', IPAGothic, sans-serif" font-size="13.5" fill="#000" textLength="78.5" lengthAdjust="spacingAndGlyphs">12:30～13:55</text>
<text x="1362" y="1154.7" font-family="'Liberation Sans', IPAGothic, sans-serif" font-size="13.5" fill="#000" textLength="253.6" lengthAdjust="spacingAndGlyphs">14:00～15:55　自主練習（時間変更あり）</text>
<text x="199.5" y="1118" font-family="IPAGothic, 'Noto Sans CJK JP', monospace" font-size="15.6" text-anchor="middle" stroke="#000" stroke-width="0.7" fill="#000">育成</text>
<text x="1253" y="1118" font-family="IPAGothic, 'Noto Sans CJK JP', monospace" font-size="15.6" text-anchor="middle" stroke="#000" stroke-width="0.7" fill="#000">育成</text>
<text x="200" y="1146" font-family="IPAGothic, 'Noto Sans CJK JP', monospace" font-size="14" text-anchor="middle" fill="#000">アウト</text>
<text x="1253" y="1146" font-family="IPAGothic, 'Noto Sans CJK JP', monospace" font-size="14" text-anchor="middle" fill="#000">アウト</text>
<text x="158.75" y="1173.7" font-family="IPAGothic, 'Noto Sans CJK JP', monospace" font-size="14.6" fill="#000" textLength="1234" lengthAdjust="spacingAndGlyphs">＊コーチ・クラスは変更する場合がございます　＊受講者が少人数の場合は短縮レッスンになります　＊振替は事前の予約が必要です　＊8週目以降のクラス減・休会届のお申し込みはキャンセル料が発生</text>
<text x="158.75" y="1194.5" font-family="IPAGothic, 'Noto Sans CJK JP', monospace" font-size="14.6" fill="#000" textLength="723" lengthAdjust="spacingAndGlyphs">＊太枠は募集クラスです　2名以上の新規登録で開講します　補講のみのご予約はお受けできませんのでご注意ください</text>
</g>
</svg>
</body></html>
